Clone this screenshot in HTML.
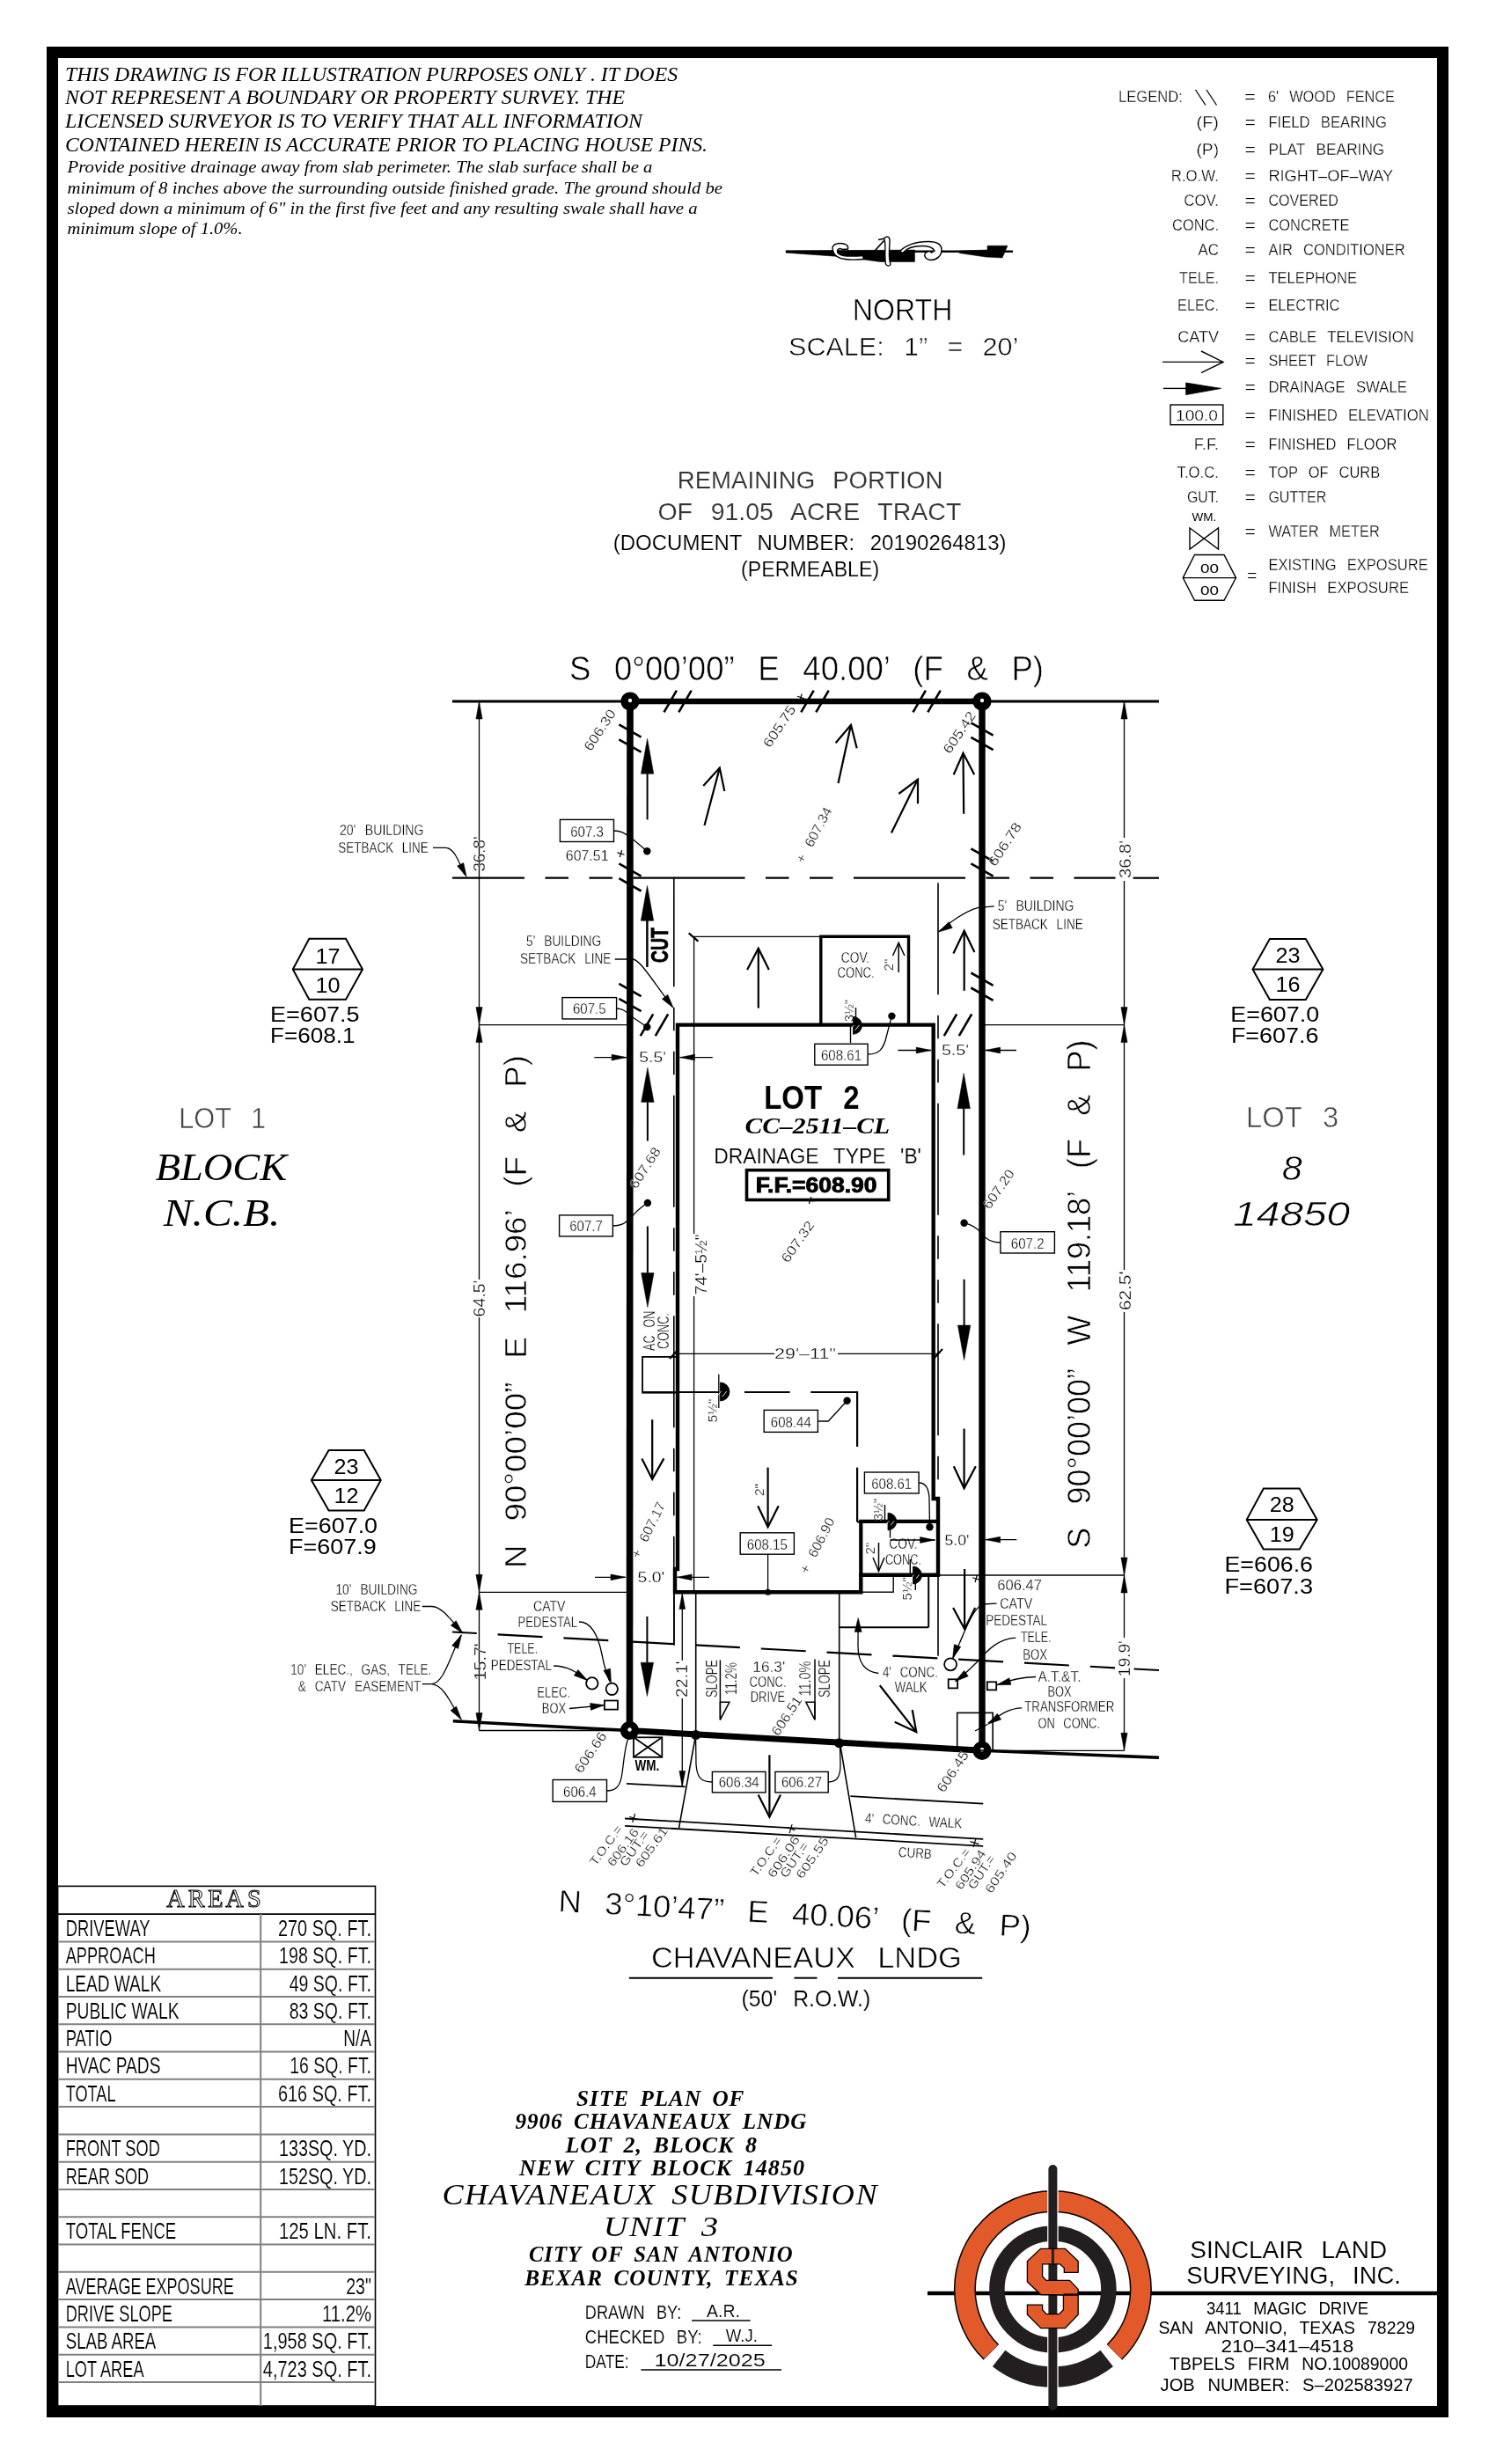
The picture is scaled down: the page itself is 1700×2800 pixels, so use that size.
<!DOCTYPE html>
<html><head><meta charset="utf-8"><title>Site Plan</title>
<style>
html,body{margin:0;padding:0;background:#fff;}
body{width:1700px;height:2800px;overflow:hidden;}
svg{display:block;font-family:"Liberation Sans", sans-serif;will-change:transform;}
text{stroke:#fff;}
</style></head>
<body>
<svg width="1700" height="2800" viewBox="0 0 1700 2800">
<rect width="1700" height="2800" fill="#fff"/>
<rect x="59.5" y="59.5" width="1580" height="2681" fill="none" stroke="#000" stroke-width="13"/>
<text x="74.0" y="91.8" font-size="23.66" font-family='"Liberation Serif", serif' font-style="italic" textLength="696.0" lengthAdjust="spacingAndGlyphs" stroke-width="0">THIS DRAWING IS FOR ILLUSTRATION PURPOSES ONLY . IT DOES</text>
<text x="74.0" y="118.2" font-size="23.66" font-family='"Liberation Serif", serif' font-style="italic" textLength="636.0" lengthAdjust="spacingAndGlyphs" stroke-width="0">NOT REPRESENT A BOUNDARY OR PROPERTY SURVEY. THE</text>
<text x="74.0" y="144.7" font-size="23.66" font-family='"Liberation Serif", serif' font-style="italic" textLength="656.0" lengthAdjust="spacingAndGlyphs" stroke-width="0">LICENSED SURVEYOR IS TO VERIFY THAT ALL INFORMATION</text>
<text x="74.0" y="171.8" font-size="23.66" font-family='"Liberation Serif", serif' font-style="italic" textLength="730.0" lengthAdjust="spacingAndGlyphs" stroke-width="0">CONTAINED HEREIN IS ACCURATE PRIOR TO PLACING HOUSE PINS.</text>
<text x="76.5" y="195.9" font-size="19.24" font-family='"Liberation Serif", serif' font-style="italic" textLength="665.0" lengthAdjust="spacingAndGlyphs" stroke-width="0">Provide positive drainage away from slab perimeter. The slab surface shall be a</text>
<text x="76.5" y="220.3" font-size="19.24" font-family='"Liberation Serif", serif' font-style="italic" textLength="744.5" lengthAdjust="spacingAndGlyphs" stroke-width="0">minimum of 8 inches above the surrounding outside finished grade. The ground should be</text>
<text x="76.5" y="243.0" font-size="19.24" font-family='"Liberation Serif", serif' font-style="italic" textLength="716.1" lengthAdjust="spacingAndGlyphs" stroke-width="0">sloped down a minimum of 6" in the first five feet and any resulting swale shall have a</text>
<text x="76.5" y="265.9" font-size="19.24" font-family='"Liberation Serif", serif' font-style="italic" textLength="199.1" lengthAdjust="spacingAndGlyphs" stroke-width="0">minimum slope of 1.0%.</text>
<text x="1271.0" y="115.7" font-size="17.46" textLength="72.8" lengthAdjust="spacingAndGlyphs" stroke-width="0.3">LEGEND:</text>
<line x1="1358.5" y1="102.0" x2="1370.0" y2="119.5" stroke="#000" stroke-width="1.3" />
<line x1="1371.0" y1="102.0" x2="1382.5" y2="119.5" stroke="#000" stroke-width="1.3" />
<text x="1414.0" y="115.7" font-size="17.46" textLength="13.0" lengthAdjust="spacingAndGlyphs" stroke-width="0.3">=</text>
<text x="1441.0" y="115.7" font-size="17.46" textLength="144.0" lengthAdjust="spacingAndGlyphs" word-spacing="7.9" stroke-width="0.3">6' WOOD FENCE</text>
<text x="1359.5" y="145.2" font-size="17.46" textLength="25.5" lengthAdjust="spacingAndGlyphs" stroke-width="0.3">(F)</text>
<text x="1414.5" y="145.2" font-size="17.46" textLength="12.5" lengthAdjust="spacingAndGlyphs" stroke-width="0.3">=</text>
<text x="1441.4" y="145.2" font-size="17.46" textLength="134.5" lengthAdjust="spacingAndGlyphs" word-spacing="7.9" stroke-width="0.3">FIELD BEARING</text>
<text x="1359.5" y="175.7" font-size="17.46" textLength="25.5" lengthAdjust="spacingAndGlyphs" stroke-width="0.3">(P)</text>
<text x="1414.5" y="175.7" font-size="17.46" textLength="12.5" lengthAdjust="spacingAndGlyphs" stroke-width="0.3">=</text>
<text x="1441.4" y="175.7" font-size="17.46" textLength="131.9" lengthAdjust="spacingAndGlyphs" word-spacing="7.9" stroke-width="0.3">PLAT BEARING</text>
<text x="1330.8" y="205.9" font-size="17.46" textLength="54.2" lengthAdjust="spacingAndGlyphs" stroke-width="0.3">R.O.W.</text>
<text x="1414.5" y="205.9" font-size="17.46" textLength="12.5" lengthAdjust="spacingAndGlyphs" stroke-width="0.3">=</text>
<text x="1441.4" y="205.9" font-size="17.46" textLength="141.8" lengthAdjust="spacingAndGlyphs" stroke-width="0.3">RIGHT–OF–WAY</text>
<text x="1345.2" y="233.8" font-size="17.46" textLength="39.8" lengthAdjust="spacingAndGlyphs" stroke-width="0.3">COV.</text>
<text x="1414.5" y="233.8" font-size="17.46" textLength="12.5" lengthAdjust="spacingAndGlyphs" stroke-width="0.3">=</text>
<text x="1441.4" y="233.8" font-size="17.46" textLength="79.6" lengthAdjust="spacingAndGlyphs" stroke-width="0.3">COVERED</text>
<text x="1332.1" y="261.7" font-size="17.46" textLength="52.9" lengthAdjust="spacingAndGlyphs" stroke-width="0.3">CONC.</text>
<text x="1414.5" y="261.7" font-size="17.46" textLength="12.5" lengthAdjust="spacingAndGlyphs" stroke-width="0.3">=</text>
<text x="1441.4" y="261.7" font-size="17.46" textLength="92.2" lengthAdjust="spacingAndGlyphs" stroke-width="0.3">CONCRETE</text>
<text x="1361.6" y="289.9" font-size="17.46" textLength="23.4" lengthAdjust="spacingAndGlyphs" stroke-width="0.3">AC</text>
<text x="1414.5" y="289.9" font-size="17.46" textLength="12.5" lengthAdjust="spacingAndGlyphs" stroke-width="0.3">=</text>
<text x="1441.4" y="289.9" font-size="17.46" textLength="155.3" lengthAdjust="spacingAndGlyphs" word-spacing="7.9" stroke-width="0.3">AIR CONDITIONER</text>
<text x="1340.0" y="322.4" font-size="17.46" textLength="45.0" lengthAdjust="spacingAndGlyphs" stroke-width="0.3">TELE.</text>
<text x="1414.5" y="322.4" font-size="17.46" textLength="12.5" lengthAdjust="spacingAndGlyphs" stroke-width="0.3">=</text>
<text x="1441.4" y="322.4" font-size="17.46" textLength="100.6" lengthAdjust="spacingAndGlyphs" stroke-width="0.3">TELEPHONE</text>
<text x="1338.1" y="353.2" font-size="17.46" textLength="46.9" lengthAdjust="spacingAndGlyphs" stroke-width="0.3">ELEC.</text>
<text x="1414.5" y="353.2" font-size="17.46" textLength="12.5" lengthAdjust="spacingAndGlyphs" stroke-width="0.3">=</text>
<text x="1441.4" y="353.2" font-size="17.46" textLength="81.0" lengthAdjust="spacingAndGlyphs" stroke-width="0.3">ELECTRIC</text>
<text x="1338.2" y="388.9" font-size="17.46" textLength="46.8" lengthAdjust="spacingAndGlyphs" stroke-width="0.3">CATV</text>
<text x="1414.5" y="388.9" font-size="17.46" textLength="12.5" lengthAdjust="spacingAndGlyphs" stroke-width="0.3">=</text>
<text x="1441.4" y="388.9" font-size="17.46" textLength="165.4" lengthAdjust="spacingAndGlyphs" word-spacing="7.9" stroke-width="0.3">CABLE TELEVISION</text>
<text x="1414.5" y="416.4" font-size="17.46" textLength="12.5" lengthAdjust="spacingAndGlyphs" stroke-width="0.3">=</text>
<text x="1441.4" y="416.4" font-size="17.46" textLength="112.6" lengthAdjust="spacingAndGlyphs" word-spacing="7.9" stroke-width="0.3">SHEET FLOW</text>
<text x="1414.5" y="446.4" font-size="17.46" textLength="12.5" lengthAdjust="spacingAndGlyphs" stroke-width="0.3">=</text>
<text x="1441.4" y="446.4" font-size="17.46" textLength="157.5" lengthAdjust="spacingAndGlyphs" word-spacing="7.9" stroke-width="0.3">DRAINAGE SWALE</text>
<text x="1414.5" y="478.2" font-size="17.46" textLength="12.5" lengthAdjust="spacingAndGlyphs" stroke-width="0.3">=</text>
<text x="1441.4" y="478.2" font-size="17.46" textLength="182.5" lengthAdjust="spacingAndGlyphs" word-spacing="7.9" stroke-width="0.3">FINISHED ELEVATION</text>
<text x="1356.8" y="511.1" font-size="17.46" textLength="28.2" lengthAdjust="spacingAndGlyphs" stroke-width="0.3">F.F.</text>
<text x="1414.5" y="511.1" font-size="17.46" textLength="12.5" lengthAdjust="spacingAndGlyphs" stroke-width="0.3">=</text>
<text x="1441.4" y="511.1" font-size="17.46" textLength="146.1" lengthAdjust="spacingAndGlyphs" word-spacing="7.9" stroke-width="0.3">FINISHED FLOOR</text>
<text x="1337.5" y="543.0" font-size="17.46" textLength="47.5" lengthAdjust="spacingAndGlyphs" stroke-width="0.3">T.O.C.</text>
<text x="1414.5" y="543.0" font-size="17.46" textLength="12.5" lengthAdjust="spacingAndGlyphs" stroke-width="0.3">=</text>
<text x="1441.4" y="543.0" font-size="17.46" textLength="126.8" lengthAdjust="spacingAndGlyphs" word-spacing="7.9" stroke-width="0.3">TOP OF CURB</text>
<text x="1348.9" y="571.4" font-size="17.46" textLength="36.1" lengthAdjust="spacingAndGlyphs" stroke-width="0.3">GUT.</text>
<text x="1414.5" y="571.4" font-size="17.46" textLength="12.5" lengthAdjust="spacingAndGlyphs" stroke-width="0.3">=</text>
<text x="1441.4" y="571.4" font-size="17.46" textLength="65.9" lengthAdjust="spacingAndGlyphs" stroke-width="0.3">GUTTER</text>
<text x="1414.5" y="610.0" font-size="17.46" textLength="12.5" lengthAdjust="spacingAndGlyphs" stroke-width="0.3">=</text>
<text x="1441.4" y="610.0" font-size="17.46" textLength="126.3" lengthAdjust="spacingAndGlyphs" word-spacing="7.9" stroke-width="0.3">WATER METER</text>
<line x1="1321.0" y1="411.4" x2="1390.0" y2="411.4" stroke="#000" stroke-width="1.4" />
<path d="M1365.0 399.0 L1390.0 411.4 L1365.0 423.6" fill="none" stroke="#000" stroke-width="1.4" />
<line x1="1322.0" y1="441.4" x2="1348.0" y2="441.4" stroke="#000" stroke-width="1.4" />
<path d="M1347.7 435.0 L1387.5 441.4 L1347.7 448.6 Z" fill="#000" stroke="#000" stroke-width="0.8" />
<rect x="1330.0" y="460.0" width="59.8" height="22.7" fill="none" stroke="#000" stroke-width="1.4"/>
<text x="1336.0" y="478.2" font-size="16.76" textLength="48.0" lengthAdjust="spacingAndGlyphs" stroke-width="0.3">100.0</text>
<text x="1354.5" y="592.3" font-size="13.27" textLength="27.8" lengthAdjust="spacingAndGlyphs" stroke-width="0">WM.</text>
<path d="M1352.0 600.0 L1384.5 624.0 L1384.5 600.0 L1352.0 624.0 Z" fill="none" stroke="#000" stroke-width="1.4" />
<path d="M1357.5 630.5 L1391.0 630.5 L1404.5 656.6 L1391.0 682.3 L1357.5 682.3 L1344.3 656.6 Z" fill="none" stroke="#000" stroke-width="1.4" />
<line x1="1344.3" y1="656.6" x2="1404.5" y2="656.6" stroke="#000" stroke-width="1.4" />
<text x="1364.0" y="651.0" font-size="15.36" textLength="21.0" lengthAdjust="spacingAndGlyphs" stroke-width="0">00</text>
<text x="1364.0" y="676.0" font-size="15.36" textLength="21.0" lengthAdjust="spacingAndGlyphs" stroke-width="0">00</text>
<text x="1417.0" y="660.0" font-size="17.46" textLength="11.5" lengthAdjust="spacingAndGlyphs" stroke-width="0.3">=</text>
<text x="1441.4" y="647.5" font-size="17.46" textLength="181.3" lengthAdjust="spacingAndGlyphs" word-spacing="7.9" stroke-width="0.3">EXISTING EXPOSURE</text>
<text x="1441.4" y="673.6" font-size="17.46" textLength="159.7" lengthAdjust="spacingAndGlyphs" word-spacing="7.9" stroke-width="0.3">FINISH EXPOSURE</text>
<line x1="893.0" y1="285.8" x2="1151.0" y2="285.8" stroke="#000" stroke-width="2.4" />
<path d="M893 285 L1039.5 284 L1039.5 297.5 L1000 297.5 L960 292 L893 287.2 Z" fill="#000" stroke="#000" stroke-width="0.5" />
<path d="M947 286 C944 280 948 276.5 955 276.5 C961 276.5 964.5 279 963.5 283 L957 283.5 C955 281.8 951.5 282.5 951.5 285.5 C951.5 290.5 960 292 981 290.5 L981 294.5 C960 296.5 949 294 947 286 Z" fill="#fff" stroke="#000" stroke-width="1.4" />
<path d="M1004.5 271.5 C1007 267.5 1011 268.5 1011 273 C1011 282 1009 292 1012 300.5 C1010.5 303 1008 302.5 1006.5 300 C1005 292 1006.5 281 1005.5 274.5 Z" fill="#fff" stroke="#000" stroke-width="1.4" />
<path d="M994.5 284.5 L1004.5 273.5" fill="none" stroke="#000" stroke-width="1.8" />
<path d="M998 272.5 L1005 271" fill="none" stroke="#000" stroke-width="1.6" />
<path d="M1022.5 286 C1028 279 1040 274.5 1055 274.5 C1065 274.5 1070 278 1070 284 C1070 291 1064 295.5 1058 295.5 C1052 295.5 1050 291 1051 288.5 C1053 285 1057 285 1058.5 287 L1062 285 C1060 281 1055 279.5 1048 279.5 C1038 279.5 1030 282 1026 287.5 Z" fill="#fff" stroke="#000" stroke-width="1.4" />
<path d="M1090 285 L1122 284 L1122 279.2 L1145 279.2 L1139 293 L1120 292 L1090 287.6 Z" fill="#000" stroke="#000" stroke-width="0.5" />
<text x="968.7" y="363.6" font-size="34.64" textLength="113.8" lengthAdjust="spacingAndGlyphs" stroke-width="0.6">NORTH</text>
<text x="896.0" y="403.6" font-size="28.91" textLength="261.3" lengthAdjust="spacingAndGlyphs" word-spacing="13.0" stroke-width="0.6">SCALE: 1” = 20’</text>
<text x="769.8" y="555.3" font-size="26.96" fill="#333" textLength="301.6" lengthAdjust="spacingAndGlyphs" word-spacing="12.1" stroke-width="0.15">REMAINING PORTION</text>
<text x="747.4" y="590.6" font-size="26.96" fill="#333" textLength="344.9" lengthAdjust="spacingAndGlyphs" word-spacing="12.1" stroke-width="0.15">OF 91.05 ACRE TRACT</text>
<text x="696.7" y="625.2" font-size="23.74" textLength="446.9" lengthAdjust="spacingAndGlyphs" word-spacing="10.7" stroke-width="0.15">(DOCUMENT NUMBER: 20190264813)</text>
<text x="842.0" y="654.7" font-size="23.74" textLength="157.2" lengthAdjust="spacingAndGlyphs" stroke-width="0.15">(PERMEABLE)</text>
<text x="647.0" y="773.3" font-size="39.11" textLength="539.0" lengthAdjust="spacingAndGlyphs" word-spacing="17.6" stroke-width="0.6">S 0°00’00” E 40.00’ (F &amp; P)</text>
<line x1="514.0" y1="797.0" x2="1317.0" y2="797.0" stroke="#000" stroke-width="3" />
<line x1="514" y1="997.7" x2="1267.5" y2="997.7" stroke="#000" stroke-width="2.2" stroke-dasharray="127 23.5 26.5 23.5 26.5 23.5" stroke-dashoffset="45"/>
<line x1="1287.6" y1="997.7" x2="1317.0" y2="997.7" stroke="#000" stroke-width="2.2" />
<line x1="765.8" y1="997.7" x2="765.8" y2="1869.5" stroke="#000" stroke-width="1.6" stroke-dasharray="127 23.5 26.5 23.5 26.5 23.5" stroke-dashoffset="3.5"/>
<line x1="1066" y1="997.7" x2="1066" y2="1886" stroke="#000" stroke-width="1.6" stroke-dasharray="127 23.5 26.5 23.5 26.5 23.5" stroke-dashoffset="-5.5"/>
<line x1="514" y1="1854.5" x2="1267" y2="1895.3" stroke="#000" stroke-width="2.2" stroke-dasharray="51 23.9" stroke-dashoffset="23.2"/>
<line x1="1288.6" y1="1896.5" x2="1317.0" y2="1898.0" stroke="#000" stroke-width="2.2" />
<line x1="544.5" y1="1164.6" x2="716.0" y2="1164.6" stroke="#000" stroke-width="1.3" />
<line x1="1116.0" y1="1164.6" x2="1277.5" y2="1164.6" stroke="#000" stroke-width="1.3" />
<line x1="544.5" y1="1809.3" x2="716.0" y2="1809.3" stroke="#000" stroke-width="1.3" />
<line x1="1066.0" y1="1790.0" x2="1277.5" y2="1790.0" stroke="#000" stroke-width="1.3" />
<line x1="544.5" y1="1966.5" x2="716.0" y2="1966.5" stroke="#000" stroke-width="1.3" />
<line x1="1116.0" y1="1989.3" x2="1277.5" y2="1989.3" stroke="#000" stroke-width="1.3" />
<line x1="544.5" y1="797.0" x2="544.5" y2="1454.0" stroke="#000" stroke-width="1.3" />
<line x1="544.5" y1="1497.0" x2="544.5" y2="1966.5" stroke="#000" stroke-width="1.3" />
<path d="M544.5 797.0 L548.1 817.0 L540.9 817.0 Z" fill="#000" stroke="#000" stroke-width="0.5" />
<path d="M544.5 1164.6 L540.9 1144.6 L548.1 1144.6 Z" fill="#000" stroke="#000" stroke-width="0.5" />
<path d="M544.5 1164.6 L548.1 1184.6 L540.9 1184.6 Z" fill="#000" stroke="#000" stroke-width="0.5" />
<path d="M544.5 1809.3 L540.9 1789.3 L548.1 1789.3 Z" fill="#000" stroke="#000" stroke-width="0.5" />
<path d="M544.5 1809.3 L548.1 1829.3 L540.9 1829.3 Z" fill="#000" stroke="#000" stroke-width="0.5" />
<path d="M544.5 1966.5 L540.9 1946.5 L548.1 1946.5 Z" fill="#000" stroke="#000" stroke-width="0.5" />
<line x1="1277.5" y1="797.0" x2="1277.5" y2="952.0" stroke="#000" stroke-width="1.3" />
<line x1="1277.5" y1="1001.0" x2="1277.5" y2="1443.0" stroke="#000" stroke-width="1.3" />
<line x1="1277.5" y1="1491.0" x2="1277.5" y2="1861.0" stroke="#000" stroke-width="1.3" />
<line x1="1277.5" y1="1907.0" x2="1277.5" y2="1989.3" stroke="#000" stroke-width="1.3" />
<path d="M1277.5 797.0 L1281.1 817.0 L1273.9 817.0 Z" fill="#000" stroke="#000" stroke-width="0.5" />
<path d="M1277.5 1164.6 L1273.9 1144.6 L1281.1 1144.6 Z" fill="#000" stroke="#000" stroke-width="0.5" />
<path d="M1277.5 1164.6 L1281.1 1184.6 L1273.9 1184.6 Z" fill="#000" stroke="#000" stroke-width="0.5" />
<path d="M1277.5 1790.0 L1273.9 1770.0 L1281.1 1770.0 Z" fill="#000" stroke="#000" stroke-width="0.5" />
<path d="M1277.5 1790.0 L1281.1 1810.0 L1273.9 1810.0 Z" fill="#000" stroke="#000" stroke-width="0.5" />
<path d="M1277.5 1989.3 L1273.9 1969.3 L1281.1 1969.3 Z" fill="#000" stroke="#000" stroke-width="0.5" />
<text x="551.5" y="990.6" font-size="18.16" textLength="40.1" lengthAdjust="spacingAndGlyphs" transform="rotate(-90.00 551.5 990.6)" stroke-width="0.3">36.8'</text>
<text x="551.5" y="1496.4" font-size="18.16" textLength="41.6" lengthAdjust="spacingAndGlyphs" transform="rotate(-90.00 551.5 1496.4)" stroke-width="0.3">64.5'</text>
<text x="551.5" y="1909.5" font-size="18.16" textLength="42.1" lengthAdjust="spacingAndGlyphs" transform="rotate(-90.00 551.5 1909.5)" stroke-width="0.3">15.7'</text>
<text x="1284.5" y="998.0" font-size="18.16" textLength="43.0" lengthAdjust="spacingAndGlyphs" transform="rotate(-90.00 1284.5 998.0)" stroke-width="0.3">36.8'</text>
<text x="1284.5" y="1489.0" font-size="18.16" textLength="44.4" lengthAdjust="spacingAndGlyphs" transform="rotate(-90.00 1284.5 1489.0)" stroke-width="0.3">62.5'</text>
<text x="1284.5" y="1905.3" font-size="18.16" textLength="41.1" lengthAdjust="spacingAndGlyphs" transform="rotate(-90.00 1284.5 1905.3)" stroke-width="0.3">19.9'</text>
<line x1="716.0" y1="797.0" x2="1116.0" y2="797.0" stroke="#000" stroke-width="6.5" />
<line x1="716.0" y1="797.0" x2="715.5" y2="1966.5" stroke="#000" stroke-width="7.6" />
<line x1="1116.0" y1="797.0" x2="1116.0" y2="1989.3" stroke="#000" stroke-width="7.4" />
<line x1="715.5" y1="1966.5" x2="1116.0" y2="1989.3" stroke="#000" stroke-width="7" />
<line x1="514.8" y1="1955.8" x2="715.5" y2="1966.5" stroke="#000" stroke-width="3.6" />
<line x1="1116.0" y1="1989.3" x2="1317.0" y2="1997.2" stroke="#000" stroke-width="3.6" />
<circle cx="716.0" cy="797.0" r="10.6" fill="#000" stroke="#000" stroke-width="0"/>
<circle cx="716.0" cy="796.0" r="2.2" fill="#fff" stroke="#000" stroke-width="0"/>
<circle cx="1116.0" cy="797.0" r="10.6" fill="#000" stroke="#000" stroke-width="0"/>
<circle cx="1116.0" cy="796.0" r="2.2" fill="#fff" stroke="#000" stroke-width="0"/>
<circle cx="715.5" cy="1966.5" r="10.6" fill="#000" stroke="#000" stroke-width="0"/>
<circle cx="715.5" cy="1965.5" r="2.2" fill="#fff" stroke="#000" stroke-width="0"/>
<circle cx="1116.0" cy="1989.3" r="10.6" fill="#000" stroke="#000" stroke-width="0"/>
<circle cx="1116.0" cy="1988.3" r="2.2" fill="#fff" stroke="#000" stroke-width="0"/>
<line x1="703.4" y1="823.3" x2="728.6" y2="837.7" stroke="#000" stroke-width="2.6" />
<line x1="703.4" y1="840.3" x2="728.6" y2="854.7" stroke="#000" stroke-width="2.6" />
<line x1="703.4" y1="981.3" x2="728.6" y2="995.7" stroke="#000" stroke-width="2.6" />
<line x1="703.4" y1="998.1" x2="728.6" y2="1012.5" stroke="#000" stroke-width="2.6" />
<line x1="703.4" y1="1117.8" x2="728.6" y2="1132.2" stroke="#000" stroke-width="2.6" />
<line x1="703.4" y1="1134.8" x2="728.6" y2="1149.2" stroke="#000" stroke-width="2.6" />
<line x1="1103.4" y1="821.3" x2="1128.6" y2="835.7" stroke="#000" stroke-width="2.6" />
<line x1="1103.4" y1="837.8" x2="1128.6" y2="852.2" stroke="#000" stroke-width="2.6" />
<line x1="1103.4" y1="964.3" x2="1128.6" y2="978.7" stroke="#000" stroke-width="2.6" />
<line x1="1103.4" y1="981.3" x2="1128.6" y2="995.7" stroke="#000" stroke-width="2.6" />
<line x1="1103.4" y1="1105.5" x2="1128.6" y2="1119.9" stroke="#000" stroke-width="2.6" />
<line x1="1103.4" y1="1122.5" x2="1128.6" y2="1136.9" stroke="#000" stroke-width="2.6" />
<line x1="754.5" y1="809.4" x2="768.9" y2="784.6" stroke="#000" stroke-width="2.6" />
<line x1="771.3" y1="809.4" x2="785.7" y2="784.6" stroke="#000" stroke-width="2.6" />
<line x1="910.3" y1="809.4" x2="924.7" y2="784.6" stroke="#000" stroke-width="2.6" />
<line x1="927.3" y1="809.4" x2="941.7" y2="784.6" stroke="#000" stroke-width="2.6" />
<line x1="1037.5" y1="809.4" x2="1051.9" y2="784.6" stroke="#000" stroke-width="2.6" />
<line x1="1054.3" y1="809.4" x2="1068.7" y2="784.6" stroke="#000" stroke-width="2.6" />
<line x1="727.8" y1="1177.2" x2="742.2" y2="1152.4" stroke="#000" stroke-width="2.6" />
<line x1="744.8" y1="1177.2" x2="759.2" y2="1152.4" stroke="#000" stroke-width="2.6" />
<line x1="1072.8" y1="1177.2" x2="1087.2" y2="1152.4" stroke="#000" stroke-width="2.6" />
<line x1="1089.8" y1="1177.2" x2="1104.2" y2="1152.4" stroke="#000" stroke-width="2.6" />
<line x1="800.5" y1="938.0" x2="817.8" y2="872.6" stroke="#000" stroke-width="2.2" />
<path d="M799.2 893.0 L817.8 872.6 L823.3 899.0" fill="none" stroke="#000" stroke-width="2.2" stroke-linejoin="miter"/>
<line x1="952.5" y1="890.0" x2="967.0" y2="823.8" stroke="#000" stroke-width="2.2" />
<path d="M949.6 844.2 L967.0 823.8 L973.7 850.2" fill="none" stroke="#000" stroke-width="2.2" stroke-linejoin="miter"/>
<line x1="1012.9" y1="946.5" x2="1043.0" y2="885.6" stroke="#000" stroke-width="2.2" />
<path d="M1021.3 902.0 L1043.0 885.6 L1043.0 913.3" fill="none" stroke="#000" stroke-width="2.2" stroke-linejoin="miter"/>
<line x1="1095.2" y1="924.8" x2="1094.5" y2="855.8" stroke="#000" stroke-width="2.2" />
<path d="M1083.7 880.3 L1094.5 855.8 L1107.2 880.3" fill="none" stroke="#000" stroke-width="2.2" stroke-linejoin="miter"/>
<line x1="861.8" y1="1145.6" x2="861.8" y2="1077.7" stroke="#000" stroke-width="2.2" />
<path d="M849.1 1102.0 L861.8 1077.7 L873.8 1102.0" fill="none" stroke="#000" stroke-width="2.2" stroke-linejoin="miter"/>
<line x1="1095.7" y1="1125.8" x2="1095.7" y2="1057.7" stroke="#000" stroke-width="2.2" />
<path d="M1083.4 1083.5 L1095.7 1057.7 L1107.4 1082.0" fill="none" stroke="#000" stroke-width="2.2" stroke-linejoin="miter"/>
<line x1="1021.2" y1="1105.0" x2="1021.2" y2="1071.2" stroke="#000" stroke-width="1.5" />
<path d="M1014.5 1086.0 L1021.2 1071.2 L1027.9 1086.0" fill="none" stroke="#000" stroke-width="1.5" stroke-linejoin="miter"/>
<line x1="741.2" y1="1613.2" x2="741.2" y2="1680.9" stroke="#000" stroke-width="2.2" />
<path d="M729.4 1657.4 L741.2 1680.9 L754.4 1657.4" fill="none" stroke="#000" stroke-width="2.2" stroke-linejoin="miter"/>
<line x1="872.6" y1="1667.6" x2="872.6" y2="1735.3" stroke="#000" stroke-width="2.2" />
<path d="M861.2 1711.2 L872.6 1735.3 L884.7 1711.2" fill="none" stroke="#000" stroke-width="2.2" stroke-linejoin="miter"/>
<line x1="1095.6" y1="1623.5" x2="1095.6" y2="1691.2" stroke="#000" stroke-width="2.2" />
<path d="M1083.8 1666.2 L1095.6 1691.2 L1108.8 1666.2" fill="none" stroke="#000" stroke-width="2.2" stroke-linejoin="miter"/>
<line x1="998.5" y1="1753.0" x2="998.5" y2="1785.3" stroke="#000" stroke-width="1.5" />
<path d="M992.0 1770.0 L998.5 1785.3 L1005.0 1770.0" fill="none" stroke="#000" stroke-width="1.5" stroke-linejoin="miter"/>
<line x1="1096.1" y1="1783.0" x2="1096.1" y2="1851.2" stroke="#000" stroke-width="2.2" />
<path d="M1083.1 1827.1 L1096.1 1851.2 L1108.2 1827.1" fill="none" stroke="#000" stroke-width="2.2" stroke-linejoin="miter"/>
<line x1="999.8" y1="1915.3" x2="1041.3" y2="1968.2" stroke="#000" stroke-width="2.2" />
<path d="M1016.7 1956.8 L1041.3 1968.2 L1036.7 1943.0" fill="none" stroke="#000" stroke-width="2.2" stroke-linejoin="miter"/>
<line x1="874.4" y1="1994.3" x2="874.4" y2="2064.7" stroke="#000" stroke-width="2.2" />
<path d="M861.7 2039.4 L874.4 2064.7 L887.0 2039.4" fill="none" stroke="#000" stroke-width="2.2" stroke-linejoin="miter"/>
<line x1="735.6" y1="931.4" x2="735.6" y2="879.3" stroke="#000" stroke-width="2" />
<path d="M735.6 839.2 L728.4 879.3 L742.8 879.3 Z" fill="#000" stroke="#000" stroke-width="0.5" />
<line x1="735.5" y1="1098.8" x2="735.5" y2="1046.3" stroke="#000" stroke-width="2" />
<path d="M735.5 1006.3 L728.3 1046.3 L742.7 1046.3 Z" fill="#000" stroke="#000" stroke-width="0.5" />
<line x1="735.9" y1="1296.5" x2="735.9" y2="1252.4" stroke="#000" stroke-width="2" />
<path d="M735.9 1213.2 L728.7 1252.4 L743.1 1252.4 Z" fill="#000" stroke="#000" stroke-width="0.5" />
<line x1="735.9" y1="1393.5" x2="735.9" y2="1446.5" stroke="#000" stroke-width="2" />
<path d="M735.9 1485.5 L728.7 1446.5 L743.1 1446.5 Z" fill="#000" stroke="#000" stroke-width="0.5" />
<line x1="735.4" y1="1836.9" x2="735.4" y2="1889.2" stroke="#000" stroke-width="2" />
<path d="M735.4 1927.6 L728.2 1889.2 L742.6 1889.2 Z" fill="#000" stroke="#000" stroke-width="0.5" />
<line x1="1095.2" y1="1312.6" x2="1095.2" y2="1259.7" stroke="#000" stroke-width="2" />
<path d="M1095.2 1219.5 L1088.0 1259.7 L1102.4 1259.7 Z" fill="#000" stroke="#000" stroke-width="0.5" />
<line x1="1095.6" y1="1453.8" x2="1095.6" y2="1506.0" stroke="#000" stroke-width="2" />
<path d="M1095.6 1545.6 L1088.4 1506.0 L1102.8 1506.0 Z" fill="#000" stroke="#000" stroke-width="0.5" />
<line x1="735.3" y1="1046.0" x2="735.3" y2="1098.8" stroke="#000" stroke-width="2" />
<text x="758.5" y="1094.0" font-size="27.23" font-weight="bold" textLength="40.0" lengthAdjust="spacingAndGlyphs" transform="rotate(-90.00 758.5 1094.0)" stroke-width="0" style="stroke:#000;stroke-width:0.8px">CUT</text>
<path d="M770.0 1164.6 L1060.7 1164.6 L1060.7 1703.0 L1066.0 1703.0 L1066.0 1789.7 L978.3 1789.7 L978.3 1809.2 L767.0 1809.2 L767.0 1783.0 L770.0 1783.0 L770.0 1164.6 Z" fill="none" stroke="#000" stroke-width="4.4" stroke-linejoin="miter"/>
<path d="M932.8 1164.6 L932.8 1064.2 L1032.5 1064.2 L1032.5 1164.6" fill="none" stroke="#000" stroke-width="3.4" />
<text x="955.8" y="1093.7" font-size="16.76" textLength="32.3" lengthAdjust="spacingAndGlyphs" stroke-width="0.3">COV.</text>
<text x="951.6" y="1110.5" font-size="16.76" textLength="42.1" lengthAdjust="spacingAndGlyphs" stroke-width="0.3">CONC.</text>
<text x="1014.5" y="1103.5" font-size="15.36" textLength="14.0" lengthAdjust="spacingAndGlyphs" transform="rotate(-90.00 1014.5 1103.5)" stroke-width="0.3">2"</text>
<text x="969.5" y="1161.0" font-size="15.36" textLength="25.2" lengthAdjust="spacingAndGlyphs" transform="rotate(-90.00 969.5 1161.0)" stroke-width="0.3">3½"</text>
<path d="M978.3 1789.7 L978.3 1728.8 L1066.0 1728.8" fill="none" stroke="#000" stroke-width="4.2" />
<rect x="978.3" y="1790.8" width="36.9" height="18.4" fill="none" stroke="#000" stroke-width="1.4"/>
<text x="1010.3" y="1760.3" font-size="16.76" textLength="32.3" lengthAdjust="spacingAndGlyphs" stroke-width="0.3">COV.</text>
<text x="1005.9" y="1778.0" font-size="16.76" textLength="41.1" lengthAdjust="spacingAndGlyphs" stroke-width="0.3">CONC.</text>
<text x="994.0" y="1766.2" font-size="15.36" textLength="13.3" lengthAdjust="spacingAndGlyphs" transform="rotate(-90.00 994.0 1766.2)" stroke-width="0.3">2"</text>
<text x="1003.0" y="1728.0" font-size="15.36" textLength="25.0" lengthAdjust="spacingAndGlyphs" transform="rotate(-90.00 1003.0 1728.0)" stroke-width="0.3">3½"</text>
<text x="1036.5" y="1818.4" font-size="15.36" textLength="26.1" lengthAdjust="spacingAndGlyphs" transform="rotate(-90.00 1036.5 1818.4)" stroke-width="0.3">5½"</text>
<line x1="730.1" y1="1582.0" x2="817.6" y2="1582.0" stroke="#000" stroke-width="2.2" />
<line x1="846.0" y1="1582.0" x2="897.6" y2="1582.0" stroke="#000" stroke-width="2.2" />
<line x1="921.2" y1="1582.0" x2="974.1" y2="1582.0" stroke="#000" stroke-width="2.2" />
<line x1="974.1" y1="1581.0" x2="974.1" y2="1644.0" stroke="#000" stroke-width="2.2" />
<line x1="974.1" y1="1667.6" x2="974.1" y2="1729.4" stroke="#000" stroke-width="2.2" />
<line x1="974.1" y1="1729.4" x2="978.0" y2="1729.4" stroke="#000" stroke-width="2.2" />
<rect x="730.1" y="1541.9" width="39.9" height="40.8" fill="none" stroke="#000" stroke-width="1.8"/>
<text x="743.8" y="1534.9" font-size="17.46" textLength="45.1" lengthAdjust="spacingAndGlyphs" transform="rotate(-90.00 743.8 1534.9)" word-spacing="7.9" stroke-width="0.3">AC ON</text>
<text x="759.8" y="1532.9" font-size="17.46" textLength="40.8" lengthAdjust="spacingAndGlyphs" transform="rotate(-90.00 759.8 1532.9)" stroke-width="0.3">CONC.</text>
<line x1="766.0" y1="1538.4" x2="880.0" y2="1538.4" stroke="#000" stroke-width="1.3" />
<line x1="952.0" y1="1538.4" x2="1066.0" y2="1538.4" stroke="#000" stroke-width="1.3" />
<text x="880.0" y="1544.1" font-size="17.18" textLength="70.0" lengthAdjust="spacingAndGlyphs" stroke-width="0.3">29'–11"</text>
<line x1="761.0" y1="1544.0" x2="771.0" y2="1533.0" stroke="#000" stroke-width="2" />
<line x1="1061.0" y1="1544.0" x2="1071.0" y2="1533.0" stroke="#000" stroke-width="2" />
<line x1="788.6" y1="1064.3" x2="788.6" y2="1402.0" stroke="#000" stroke-width="1.3" />
<line x1="788.6" y1="1473.0" x2="788.6" y2="1809.0" stroke="#000" stroke-width="1.3" />
<line x1="788.6" y1="1064.3" x2="932.8" y2="1064.3" stroke="#000" stroke-width="1.3" />
<line x1="782.7" y1="1060.4" x2="793.4" y2="1069.6" stroke="#000" stroke-width="2.2" />
<text x="803.0" y="1471.5" font-size="18.16" textLength="69.1" lengthAdjust="spacingAndGlyphs" transform="rotate(-90.00 803.0 1471.5)" stroke-width="0.3">74'–5½"</text>
<path d="M969.5 1155.3 A10 10 0 0 1 969.5 1175.3 Z" fill="#000" stroke="#000" stroke-width="0.8" />
<line x1="965.5" y1="1170.8" x2="970.5" y2="1164.8" stroke="#fff" stroke-width="0.9"/>
<line x1="971.5" y1="1170.8" x2="976.5" y2="1164.8" stroke="#fff" stroke-width="0.9"/>
<line x1="972.5" y1="1145.0" x2="972.5" y2="1165.3" stroke="#000" stroke-width="1.4" />
<line x1="966.5" y1="1165.3" x2="966.5" y2="1185.0" stroke="#000" stroke-width="1.4" />
<line x1="816.8" y1="1561.8" x2="816.8" y2="1600.0" stroke="#000" stroke-width="1.3" />
<path d="M818.5 1571.0 A10.5 10.5 0 0 1 818.5 1592.0 Z" fill="#000" stroke="#000" stroke-width="0.8" />
<line x1="814.3" y1="1587.3" x2="819.5" y2="1581.0" stroke="#fff" stroke-width="0.9"/>
<line x1="820.6" y1="1587.3" x2="825.8" y2="1581.0" stroke="#fff" stroke-width="0.9"/>
<text x="815.3" y="1616.2" font-size="15.36" textLength="26.5" lengthAdjust="spacingAndGlyphs" transform="rotate(-90.00 815.3 1616.2)" stroke-width="0.3">5½"</text>
<text x="868.2" y="1700.0" font-size="15.36" textLength="14.1" lengthAdjust="spacingAndGlyphs" transform="rotate(-90.00 868.2 1700.0)" stroke-width="0.3">2"</text>
<path d="M1009.0 1719.2 A9.8 9.8 0 0 1 1009.0 1738.8 Z" fill="#000" stroke="#000" stroke-width="0.8" />
<line x1="1005.1" y1="1734.4" x2="1010.0" y2="1728.5" stroke="#fff" stroke-width="0.9"/>
<line x1="1011.0" y1="1734.4" x2="1015.9" y2="1728.5" stroke="#fff" stroke-width="0.9"/>
<line x1="1005.5" y1="1710.0" x2="1005.5" y2="1729.0" stroke="#000" stroke-width="1.4" />
<line x1="1011.5" y1="1729.0" x2="1011.5" y2="1747.6" stroke="#000" stroke-width="1.4" />
<path d="M1037.5 1780.0 A10 10 0 0 1 1037.5 1800.0 Z" fill="#000" stroke="#000" stroke-width="0.8" />
<line x1="1033.5" y1="1795.5" x2="1038.5" y2="1789.5" stroke="#fff" stroke-width="0.9"/>
<line x1="1039.5" y1="1795.5" x2="1044.5" y2="1789.5" stroke="#fff" stroke-width="0.9"/>
<line x1="1034.3" y1="1772.0" x2="1034.3" y2="1790.0" stroke="#000" stroke-width="1.4" />
<line x1="1040.3" y1="1790.0" x2="1040.3" y2="1807.0" stroke="#000" stroke-width="1.4" />
<rect x="636.4" y="931.4" width="61.1" height="25.1" fill="none" stroke="#000" stroke-width="1.4"/>
<text x="667.0" y="951.0" font-size="16.76" text-anchor="middle" textLength="37.7" lengthAdjust="spacingAndGlyphs" stroke-width="0.3">607.3</text>
<path d="M697.5 944 C706 944 710 947 716 951 L735.3 967.3" fill="none" stroke="#000" stroke-width="1.3" />
<circle cx="735.3" cy="967.3" r="4.2" fill="#000"/>
<text x="642.8" y="978.2" font-size="16.76" textLength="48.7" lengthAdjust="spacingAndGlyphs" stroke-width="0.3">607.51</text>
<rect x="639.0" y="1133.6" width="61.6" height="24.3" fill="none" stroke="#000" stroke-width="1.4"/>
<text x="669.8" y="1152.4" font-size="16.76" text-anchor="middle" textLength="37.7" lengthAdjust="spacingAndGlyphs" stroke-width="0.3">607.5</text>
<path d="M700.6 1146 C708 1146 712 1150 716 1154 L735.3 1167" fill="none" stroke="#000" stroke-width="1.3" />
<circle cx="735.3" cy="1167.0" r="4.2" fill="#000"/>
<rect x="925.8" y="1186.3" width="60.3" height="23.9" fill="none" stroke="#000" stroke-width="1.4"/>
<text x="956.0" y="1204.7" font-size="16.76" text-anchor="middle" textLength="46.0" lengthAdjust="spacingAndGlyphs" stroke-width="0.3">608.61</text>
<path d="M986.1 1198 C998 1198 1004 1194 1008 1175 L1013.4 1154.6" fill="none" stroke="#000" stroke-width="1.3" />
<circle cx="1013.4" cy="1154.6" r="4.2" fill="#000"/>
<rect x="635.6" y="1380.9" width="60.8" height="24.0" fill="none" stroke="#000" stroke-width="1.4"/>
<text x="666.0" y="1399.4" font-size="16.76" text-anchor="middle" textLength="37.7" lengthAdjust="spacingAndGlyphs" stroke-width="0.3">607.7</text>
<path d="M696.4 1393 C706 1393 710 1390 716 1385 C722 1377 728 1372 735.9 1367" fill="none" stroke="#000" stroke-width="1.3" />
<circle cx="735.9" cy="1367.0" r="4.2" fill="#000"/>
<rect x="1136.9" y="1399.7" width="61.5" height="24.3" fill="none" stroke="#000" stroke-width="1.4"/>
<text x="1167.7" y="1418.5" font-size="16.76" text-anchor="middle" textLength="37.7" lengthAdjust="spacingAndGlyphs" stroke-width="0.3">607.2</text>
<path d="M1136.9 1412 C1126 1412 1120 1408 1116 1402 C1110 1395 1102 1391 1095.6 1389.7" fill="none" stroke="#000" stroke-width="1.3" />
<circle cx="1095.6" cy="1389.7" r="4.2" fill="#000"/>
<rect x="868.2" y="1602.4" width="61.2" height="25.0" fill="none" stroke="#000" stroke-width="1.4"/>
<text x="898.8" y="1621.9" font-size="16.76" text-anchor="middle" textLength="46.0" lengthAdjust="spacingAndGlyphs" stroke-width="0.3">608.44</text>
<path d="M929.4 1615 L941.2 1615 L962.6 1591.8" fill="none" stroke="#000" stroke-width="1.3" />
<circle cx="962.6" cy="1591.8" r="4.2" fill="#000"/>
<rect x="982.4" y="1673.0" width="61.7" height="24.0" fill="none" stroke="#000" stroke-width="1.4"/>
<text x="1013.2" y="1691.5" font-size="16.76" text-anchor="middle" textLength="46.0" lengthAdjust="spacingAndGlyphs" stroke-width="0.3">608.61</text>
<path d="M1044.1 1685 C1054 1685 1056 1695 1056 1705 L1056.5 1735.3" fill="none" stroke="#000" stroke-width="1.3" />
<circle cx="1056.5" cy="1735.3" r="4.2" fill="#000"/>
<rect x="841.2" y="1741.8" width="61.2" height="24.4" fill="none" stroke="#000" stroke-width="1.4"/>
<text x="871.8" y="1760.7" font-size="16.76" text-anchor="middle" textLength="46.0" lengthAdjust="spacingAndGlyphs" stroke-width="0.3">608.15</text>
<line x1="872.6" y1="1766.2" x2="872.6" y2="1809.0" stroke="#000" stroke-width="1.3" />
<circle cx="872.6" cy="1809.2" r="3.5" fill="#000"/>
<text x="671.5" y="854.5" font-size="15.36" textLength="52.7" lengthAdjust="spacingAndGlyphs" transform="rotate(-56.61 671.5 854.5)" stroke-width="0.3">606.30</text>
<text x="875.0" y="850.5" font-size="15.36" textLength="53.7" lengthAdjust="spacingAndGlyphs" transform="rotate(-56.01 875.0 850.5)" stroke-width="0.3">605.75</text>
<text x="1079.5" y="857.5" font-size="15.36" textLength="53.7" lengthAdjust="spacingAndGlyphs" transform="rotate(-56.01 1079.5 857.5)" stroke-width="0.3">605.42</text>
<text x="913.0" y="982.0" font-size="15.36" textLength="69.4" lengthAdjust="spacingAndGlyphs" transform="rotate(-61.59 913.0 982.0)" word-spacing="6.9" stroke-width="0.3">+ 607.34</text>
<text x="1131.0" y="985.5" font-size="15.36" textLength="55.6" lengthAdjust="spacingAndGlyphs" transform="rotate(-56.74 1131.0 985.5)" stroke-width="0.3">606.78</text>
<text x="723.0" y="1352.0" font-size="15.36" textLength="52.4" lengthAdjust="spacingAndGlyphs" transform="rotate(-57.07 723.0 1352.0)" stroke-width="0.3">607.68</text>
<text x="895.5" y="1436.0" font-size="15.36" textLength="53.5" lengthAdjust="spacingAndGlyphs" transform="rotate(-55.27 895.5 1436.0)" stroke-width="0.3">607.32</text>
<text x="1124.5" y="1375.0" font-size="15.36" textLength="50.6" lengthAdjust="spacingAndGlyphs" transform="rotate(-55.05 1124.5 1375.0)" stroke-width="0.3">607.20</text>
<text x="726.0" y="1772.0" font-size="15.36" textLength="69.1" lengthAdjust="spacingAndGlyphs" transform="rotate(-63.81 726.0 1772.0)" word-spacing="6.9" stroke-width="0.3">+ 607.17</text>
<text x="917.5" y="1789.5" font-size="15.36" textLength="69.1" lengthAdjust="spacingAndGlyphs" transform="rotate(-62.88 917.5 1789.5)" word-spacing="6.9" stroke-width="0.3">+ 606.90</text>
<text x="884.5" y="1973.5" font-size="15.36" textLength="49.8" lengthAdjust="spacingAndGlyphs" transform="rotate(-56.47 884.5 1973.5)" stroke-width="0.3">606.51</text>
<text x="660.5" y="2016.0" font-size="15.36" textLength="52.6" lengthAdjust="spacingAndGlyphs" transform="rotate(-55.86 660.5 2016.0)" stroke-width="0.3">606.66</text>
<text x="1072.5" y="2038.0" font-size="15.36" textLength="52.7" lengthAdjust="spacingAndGlyphs" transform="rotate(-56.61 1072.5 2038.0)" stroke-width="0.3">606.45</text>
<line x1="701.5" y1="968.9" x2="709.5" y2="971.3" stroke="#000" stroke-width="1.2" />
<line x1="704.3" y1="974.1" x2="706.7" y2="966.1" stroke="#000" stroke-width="1.2" />
<line x1="906.0" y1="791.3" x2="914.0" y2="793.7" stroke="#000" stroke-width="1.2" />
<line x1="908.8" y1="796.5" x2="911.2" y2="788.5" stroke="#000" stroke-width="1.2" />
<line x1="1105.0" y1="793.8" x2="1113.0" y2="796.2" stroke="#000" stroke-width="1.2" />
<line x1="1107.8" y1="799.0" x2="1110.2" y2="791.0" stroke="#000" stroke-width="1.2" />
<line x1="916.6" y1="1362.8" x2="924.6" y2="1365.2" stroke="#000" stroke-width="1.2" />
<line x1="919.4" y1="1368.0" x2="921.8" y2="1360.0" stroke="#000" stroke-width="1.2" />
<line x1="1105.2" y1="1792.8" x2="1113.2" y2="1795.2" stroke="#000" stroke-width="1.2" />
<line x1="1108.0" y1="1798.0" x2="1110.4" y2="1790.0" stroke="#000" stroke-width="1.2" />
<line x1="675.3" y1="1201.6" x2="712.1" y2="1201.6" stroke="#000" stroke-width="1.3" />
<path d="M712.1 1201.6 L695.1 1205.0 L695.1 1198.2 Z" fill="#000" stroke="#000" stroke-width="0.5" />
<line x1="809.8" y1="1201.6" x2="772.5" y2="1201.6" stroke="#000" stroke-width="1.3" />
<path d="M772.5 1201.6 L789.5 1198.2 L789.5 1205.0 Z" fill="#000" stroke="#000" stroke-width="0.5" />
<text x="726.3" y="1207.4" font-size="17.18" textLength="30.6" lengthAdjust="spacingAndGlyphs" stroke-width="0.3">5.5'</text>
<line x1="1020.4" y1="1193.5" x2="1058.2" y2="1193.5" stroke="#000" stroke-width="1.3" />
<path d="M1058.2 1193.5 L1041.2 1196.9 L1041.2 1190.1 Z" fill="#000" stroke="#000" stroke-width="0.5" />
<line x1="1155.0" y1="1193.5" x2="1119.6" y2="1193.5" stroke="#000" stroke-width="1.3" />
<path d="M1119.6 1193.5 L1136.6 1190.1 L1136.6 1196.9 Z" fill="#000" stroke="#000" stroke-width="0.5" />
<text x="1069.9" y="1199.3" font-size="17.18" textLength="31.2" lengthAdjust="spacingAndGlyphs" stroke-width="0.3">5.5'</text>
<line x1="676.0" y1="1792.3" x2="711.0" y2="1792.3" stroke="#000" stroke-width="1.3" />
<path d="M711.0 1792.3 L694.0 1795.7 L694.0 1788.9 Z" fill="#000" stroke="#000" stroke-width="0.5" />
<line x1="806.0" y1="1792.3" x2="769.2" y2="1792.3" stroke="#000" stroke-width="1.3" />
<path d="M769.2 1792.3 L786.2 1788.9 L786.2 1795.7 Z" fill="#000" stroke="#000" stroke-width="0.5" />
<text x="724.6" y="1798.0" font-size="17.18" textLength="30.7" lengthAdjust="spacingAndGlyphs" stroke-width="0.3">5.0'</text>
<line x1="1011.5" y1="1750.0" x2="1062.5" y2="1750.0" stroke="#000" stroke-width="1.3" />
<path d="M1062.5 1750.0 L1045.5 1753.4 L1045.5 1746.6 Z" fill="#000" stroke="#000" stroke-width="0.5" />
<line x1="1155.3" y1="1749.6" x2="1119.6" y2="1749.6" stroke="#000" stroke-width="1.3" />
<path d="M1119.6 1749.6 L1136.6 1746.2 L1136.6 1753.0 Z" fill="#000" stroke="#000" stroke-width="0.5" />
<text x="1073.5" y="1755.9" font-size="17.18" textLength="28.0" lengthAdjust="spacingAndGlyphs" stroke-width="0.3">5.0'</text>
<text x="386.0" y="948.7" font-size="16.76" textLength="95.6" lengthAdjust="spacingAndGlyphs" word-spacing="7.5" stroke-width="0.3">20' BUILDING</text>
<text x="384.3" y="968.5" font-size="16.76" textLength="102.5" lengthAdjust="spacingAndGlyphs" word-spacing="7.5" stroke-width="0.3">SETBACK LINE</text>
<path d="M492 963.3 L506 963.3 C515 963.3 520 975 528 994" fill="none" stroke="#000" stroke-width="1.3" />
<path d="M530.3 996.6 L519.6 984.1 L526.7 980.5 Z" fill="#000" stroke="#000" stroke-width="0.5" />
<text x="598.0" y="1074.5" font-size="16.76" textLength="85.2" lengthAdjust="spacingAndGlyphs" word-spacing="7.5" stroke-width="0.3">5' BUILDING</text>
<text x="591.0" y="1094.6" font-size="16.76" textLength="103.3" lengthAdjust="spacingAndGlyphs" word-spacing="7.5" stroke-width="0.3">SETBACK LINE</text>
<path d="M698.8 1090 L719.7 1090 C728 1092 740 1112 764 1144" fill="none" stroke="#000" stroke-width="1.3" />
<path d="M765.3 1145.5 L752.4 1135.2 L758.8 1130.3 Z" fill="#000" stroke="#000" stroke-width="0.5" />
<text x="1133.8" y="1035.3" font-size="16.76" textLength="86.7" lengthAdjust="spacingAndGlyphs" word-spacing="7.5" stroke-width="0.3">5' BUILDING</text>
<text x="1127.7" y="1056.0" font-size="16.76" textLength="103.0" lengthAdjust="spacingAndGlyphs" word-spacing="7.5" stroke-width="0.3">SETBACK LINE</text>
<path d="M1129.8 1029.9 L1111.8 1031.4 C1095 1036 1080 1048 1067 1058.5" fill="none" stroke="#000" stroke-width="1.3" />
<path d="M1066.5 1059.1 L1078.3 1047.5 L1082.3 1054.4 Z" fill="#000" stroke="#000" stroke-width="0.5" />
<text x="381.4" y="1811.8" font-size="16.76" textLength="93.2" lengthAdjust="spacingAndGlyphs" word-spacing="7.5" stroke-width="0.3">10' BUILDING</text>
<text x="375.8" y="1830.9" font-size="16.76" textLength="102.5" lengthAdjust="spacingAndGlyphs" word-spacing="7.5" stroke-width="0.3">SETBACK LINE</text>
<path d="M479.7 1825.5 L490.9 1825.5 C502 1826 512 1840 525 1855" fill="none" stroke="#000" stroke-width="1.3" />
<path d="M526.0 1856.2 L512.3 1847.1 L518.2 1841.7 Z" fill="#000" stroke="#000" stroke-width="0.5" />
<text x="330.3" y="1902.5" font-size="16.76" textLength="160.0" lengthAdjust="spacingAndGlyphs" word-spacing="7.5" stroke-width="0.3">10' ELEC., GAS, TELE.</text>
<text x="338.7" y="1922.1" font-size="16.76" textLength="139.6" lengthAdjust="spacingAndGlyphs" word-spacing="7.5" stroke-width="0.3">&amp; CATV EASEMENT</text>
<path d="M479.7 1913.7 L490.9 1913.7 C505 1912 512 1880 524 1858" fill="none" stroke="#000" stroke-width="1.3" />
<path d="M524.6 1857.6 L520.7 1873.6 L513.6 1869.9 Z" fill="#000" stroke="#000" stroke-width="0.5" />
<path d="M490.9 1913.7 C505 1916 512 1935 523 1953" fill="none" stroke="#000" stroke-width="1.3" />
<path d="M524.6 1954.4 L512.0 1943.7 L518.5 1939.1 Z" fill="#000" stroke="#000" stroke-width="0.5" />
<text x="606.0" y="1830.9" font-size="16.76" textLength="36.5" lengthAdjust="spacingAndGlyphs" stroke-width="0.3">CATV</text>
<text x="588.6" y="1849.2" font-size="16.76" textLength="67.4" lengthAdjust="spacingAndGlyphs" stroke-width="0.3">PEDESTAL</text>
<path d="M658 1843 C672 1843 680 1860 684 1880 C687 1895 690 1905 693 1911" fill="none" stroke="#000" stroke-width="1.3" />
<path d="M694.5 1912.5 L685.9 1898.4 L693.6 1896.0 Z" fill="#000" stroke="#000" stroke-width="0.5" />
<circle cx="695.3" cy="1919.3" r="6.7" fill="none" stroke="#000" stroke-width="1.8"/>
<text x="576.5" y="1878.6" font-size="16.76" textLength="34.6" lengthAdjust="spacingAndGlyphs" stroke-width="0.3">TELE.</text>
<text x="557.7" y="1897.7" font-size="16.76" textLength="69.4" lengthAdjust="spacingAndGlyphs" stroke-width="0.3">PEDESTAL</text>
<path d="M629 1893 C645 1893 655 1900 667 1909" fill="none" stroke="#000" stroke-width="1.3" />
<path d="M667.8 1909.8 L652.3 1904.0 L656.9 1897.4 Z" fill="#000" stroke="#000" stroke-width="0.5" />
<circle cx="672.8" cy="1912.9" r="6.7" fill="none" stroke="#000" stroke-width="1.8"/>
<text x="610.2" y="1928.6" font-size="16.76" textLength="37.9" lengthAdjust="spacingAndGlyphs" stroke-width="0.3">ELEC.</text>
<text x="615.8" y="1946.6" font-size="16.76" textLength="27.3" lengthAdjust="spacingAndGlyphs" stroke-width="0.3">BOX</text>
<path d="M647 1941.5 L686 1937.8" fill="none" stroke="#000" stroke-width="1.3" />
<path d="M686.9 1937.6 L671.4 1943.4 L670.6 1935.4 Z" fill="#000" stroke="#000" stroke-width="0.5" />
<rect x="686.9" y="1932.5" width="15.1" height="10.1" fill="none" stroke="#000" stroke-width="1.8"/>
<text x="1133.2" y="1806.5" font-size="16.76" textLength="50.8" lengthAdjust="spacingAndGlyphs" stroke-width="0.3">606.47</text>
<text x="1136.3" y="1827.7" font-size="16.76" textLength="37.0" lengthAdjust="spacingAndGlyphs" stroke-width="0.3">CATV</text>
<text x="1120.2" y="1846.6" font-size="16.76" textLength="69.8" lengthAdjust="spacingAndGlyphs" stroke-width="0.3">PEDESTAL</text>
<path d="M1132.6 1822.1 L1116 1823 C1105 1830 1098 1850 1090 1868 C1086 1876 1084 1882 1083 1884" fill="none" stroke="#000" stroke-width="1.3" />
<path d="M1082.5 1885.0 L1084.3 1868.6 L1091.8 1871.4 Z" fill="#000" stroke="#000" stroke-width="0.5" />
<circle cx="1080.1" cy="1891.3" r="7.0" fill="none" stroke="#000" stroke-width="1.8"/>
<text x="1159.9" y="1866.2" font-size="16.76" textLength="34.5" lengthAdjust="spacingAndGlyphs" stroke-width="0.3">TELE.</text>
<text x="1162.3" y="1886.3" font-size="16.76" textLength="27.7" lengthAdjust="spacingAndGlyphs" stroke-width="0.3">BOX</text>
<path d="M1154.3 1861.2 C1135 1862 1122 1875 1110 1889 C1100 1899 1092 1906 1086 1910" fill="none" stroke="#000" stroke-width="1.3" />
<path d="M1085.0 1911.0 L1095.6 1898.4 L1100.3 1904.8 Z" fill="#000" stroke="#000" stroke-width="0.5" />
<rect x="1077.7" y="1908.3" width="10.4" height="10.1" fill="none" stroke="#000" stroke-width="1.8"/>
<text x="1179.4" y="1911.3" font-size="16.76" textLength="49.1" lengthAdjust="spacingAndGlyphs" stroke-width="0.3">A.T.&amp;T.</text>
<text x="1190.4" y="1928.0" font-size="16.76" textLength="27.1" lengthAdjust="spacingAndGlyphs" stroke-width="0.3">BOX</text>
<path d="M1177 1905.5 C1160 1906 1145 1910 1133 1914.5" fill="none" stroke="#000" stroke-width="1.3" />
<path d="M1132.5 1914.8 L1146.9 1906.7 L1149.0 1914.4 Z" fill="#000" stroke="#000" stroke-width="0.5" />
<rect x="1121.8" y="1911.3" width="10.4" height="9.1" fill="none" stroke="#000" stroke-width="1.8"/>
<text x="1164.3" y="1945.4" font-size="16.76" textLength="101.9" lengthAdjust="spacingAndGlyphs" stroke-width="0.3">TRANSFORMER</text>
<text x="1179.4" y="1964.1" font-size="16.76" textLength="70.7" lengthAdjust="spacingAndGlyphs" word-spacing="7.5" stroke-width="0.3">ON CONC.</text>
<path d="M1161.3 1940.8 C1145 1941 1135 1950 1123 1958" fill="none" stroke="#000" stroke-width="1.3" />
<path d="M1122.2 1959.5 L1133.3 1947.3 L1137.7 1954.0 Z" fill="#000" stroke="#000" stroke-width="0.5" />
<line x1="1122.2" y1="1959.5" x2="1108.0" y2="1967.0" stroke="#000" stroke-width="1.3" />
<rect x="1087.7" y="1946.4" width="40.5" height="42.6" fill="none" stroke="#000" stroke-width="1.6"/>
<line x1="790.7" y1="1809.0" x2="790.7" y2="1971.6" stroke="#000" stroke-width="1.6" />
<line x1="953.7" y1="1809.0" x2="953.7" y2="1981.0" stroke="#000" stroke-width="1.6" />
<circle cx="790.7" cy="1971.6" r="5.5" fill="#000"/>
<circle cx="953.7" cy="1980.8" r="5.5" fill="#000"/>
<line x1="953.7" y1="1849.2" x2="1055.2" y2="1849.2" stroke="#000" stroke-width="2" />
<line x1="1055.2" y1="1790.0" x2="1055.2" y2="1849.2" stroke="#000" stroke-width="2" />
<line x1="766.0" y1="1809.0" x2="766.0" y2="1869.5" stroke="#000" stroke-width="1.6" />
<path d="M998.3 1901.5 C984 1900 975 1890 975 1870 L975.2 1842" fill="none" stroke="#000" stroke-width="1.3" />
<path d="M975.2 1838.4 L979.2 1854.4 L971.2 1854.4 Z" fill="#000" stroke="#000" stroke-width="0.5" />
<text x="1002.9" y="1906.0" font-size="16.76" textLength="63.0" lengthAdjust="spacingAndGlyphs" word-spacing="7.5" stroke-width="0.3">4' CONC.</text>
<text x="1016.7" y="1923.0" font-size="16.76" textLength="36.9" lengthAdjust="spacingAndGlyphs" stroke-width="0.3">WALK</text>
<text x="855.3" y="1900.0" font-size="16.76" textLength="36.9" lengthAdjust="spacingAndGlyphs" stroke-width="0.3">16.3'</text>
<text x="851.6" y="1916.8" font-size="16.76" textLength="42.1" lengthAdjust="spacingAndGlyphs" stroke-width="0.3">CONC.</text>
<text x="852.8" y="1933.8" font-size="16.76" textLength="39.4" lengthAdjust="spacingAndGlyphs" stroke-width="0.3">DRIVE</text>
<text x="815.0" y="1929.1" font-size="17.46" textLength="43.0" lengthAdjust="spacingAndGlyphs" transform="rotate(-90.00 815.0 1929.1)" stroke-width="0.3">SLOPE</text>
<text x="836.5" y="1926.0" font-size="17.46" textLength="36.8" lengthAdjust="spacingAndGlyphs" transform="rotate(-90.00 836.5 1926.0)" stroke-width="0.3">11.2%</text>
<text x="921.0" y="1927.6" font-size="17.46" textLength="40.0" lengthAdjust="spacingAndGlyphs" transform="rotate(-90.00 921.0 1927.6)" stroke-width="0.3">11.0%</text>
<text x="943.0" y="1929.1" font-size="17.46" textLength="43.0" lengthAdjust="spacingAndGlyphs" transform="rotate(-90.00 943.0 1929.1)" stroke-width="0.3">SLOPE</text>
<line x1="818.4" y1="1886.5" x2="818.4" y2="1954.3" stroke="#000" stroke-width="1.5" />
<path d="M818.4 1934.2 L828.9 1934.2 L818.4 1954.3 Z" fill="none" stroke="#000" stroke-width="1.5" />
<line x1="926.0" y1="1885.5" x2="926.0" y2="1954.3" stroke="#000" stroke-width="1.5" />
<path d="M926.0 1934.2 L915.8 1934.2 L926.0 1954.3 Z" fill="none" stroke="#000" stroke-width="1.5" />
<line x1="775.3" y1="1812.0" x2="775.3" y2="1887.0" stroke="#000" stroke-width="1.3" />
<line x1="775.3" y1="1930.0" x2="775.3" y2="2030.0" stroke="#000" stroke-width="1.3" />
<path d="M775.3 1810.5 L778.7 1828.5 L771.9 1828.5 Z" fill="#000" stroke="#000" stroke-width="0.5" />
<path d="M775.3 2030.4 L771.9 2012.4 L778.7 2012.4 Z" fill="#000" stroke="#000" stroke-width="0.5" />
<text x="781.5" y="1929.1" font-size="17.46" textLength="41.5" lengthAdjust="spacingAndGlyphs" transform="rotate(-90.00 781.5 1929.1)" stroke-width="0.3">22.1'</text>
<rect x="720.0" y="1974.3" width="32.3" height="22.5" fill="none" stroke="#000" stroke-width="1.8"/>
<line x1="720.0" y1="1974.3" x2="752.3" y2="1996.8" stroke="#000" stroke-width="1.8" />
<line x1="720.0" y1="1996.8" x2="752.3" y2="1974.3" stroke="#000" stroke-width="1.8" />
<text x="721.5" y="2012.2" font-size="16.06" font-weight="bold" textLength="27.7" lengthAdjust="spacingAndGlyphs" stroke-width="0">WM.</text>
<line x1="790.6" y1="1971.6" x2="771.5" y2="2077.3" stroke="#000" stroke-width="1.6" />
<line x1="954.5" y1="1981.0" x2="972.6" y2="2088.2" stroke="#000" stroke-width="1.6" />
<line x1="711.9" y1="2026.8" x2="778.7" y2="2030.4" stroke="#000" stroke-width="1.8" />
<line x1="966.4" y1="2041.2" x2="1117.2" y2="2049.7" stroke="#000" stroke-width="1.8" />
<line x1="710.1" y1="2066.5" x2="1117.2" y2="2089.8" stroke="#000" stroke-width="1.8" />
<line x1="710.1" y1="2074.8" x2="1117.2" y2="2097.8" stroke="#000" stroke-width="1.8" />
<rect x="628.2" y="2022.5" width="61.3" height="24.9" fill="none" stroke="#000" stroke-width="1.4"/>
<text x="658.9" y="2041.9" font-size="16.76" text-anchor="middle" textLength="37.7" lengthAdjust="spacingAndGlyphs" stroke-width="0.3">606.4</text>
<path d="M689.5 2035 C700 2035 705 2030 707 2015 C709 2000 710 1985 714 1975" fill="none" stroke="#000" stroke-width="1.3" />
<rect x="809.4" y="2013.4" width="60.6" height="23.5" fill="none" stroke="#000" stroke-width="1.4"/>
<text x="839.7" y="2031.4" font-size="16.76" text-anchor="middle" textLength="46.0" lengthAdjust="spacingAndGlyphs" stroke-width="0.3">606.34</text>
<path d="M809.4 2025 C795 2025 792 2018 791 2005 L790.6 1975" fill="none" stroke="#000" stroke-width="1.3" />
<rect x="880.9" y="2013.4" width="60.3" height="23.5" fill="none" stroke="#000" stroke-width="1.4"/>
<text x="911.0" y="2031.4" font-size="16.76" text-anchor="middle" textLength="46.0" lengthAdjust="spacingAndGlyphs" stroke-width="0.3">606.27</text>
<path d="M941.2 2025 C952 2025 955 2018 955 2005 L954.5 1985" fill="none" stroke="#000" stroke-width="1.3" />
<text x="982.7" y="2071.5" font-size="16.06" textLength="110.3" lengthAdjust="spacingAndGlyphs" transform="rotate(3.12 982.7 2071.5)" word-spacing="7.2" stroke-width="0.3">4' CONC. WALK</text>
<text x="1020.6" y="2110.0" font-size="16.06" textLength="38.0" lengthAdjust="spacingAndGlyphs" transform="rotate(3.32 1020.6 2110.0)" stroke-width="0.3">CURB</text>
<text x="677.0" y="2121.0" font-size="13.97" textLength="52.6" lengthAdjust="spacingAndGlyphs" transform="rotate(-53.89 677.0 2121.0)" stroke-width="0.3">T.O.C.=</text>
<text x="697.0" y="2122.0" font-size="13.97" textLength="49.7" lengthAdjust="spacingAndGlyphs" transform="rotate(-53.59 697.0 2122.0)" stroke-width="0.3">606.16</text>
<text x="711.0" y="2122.0" font-size="13.97" textLength="45.8" lengthAdjust="spacingAndGlyphs" transform="rotate(-53.88 711.0 2122.0)" stroke-width="0.3">GUT.=</text>
<text x="729.0" y="2123.0" font-size="13.97" textLength="52.3" lengthAdjust="spacingAndGlyphs" transform="rotate(-54.33 729.0 2123.0)" stroke-width="0.3">605.61</text>
<text x="859.5" y="2133.0" font-size="13.97" textLength="50.9" lengthAdjust="spacingAndGlyphs" transform="rotate(-54.59 859.5 2133.0)" stroke-width="0.3">T.O.C.=</text>
<text x="879.5" y="2135.0" font-size="13.97" textLength="54.1" lengthAdjust="spacingAndGlyphs" transform="rotate(-56.31 879.5 2135.0)" stroke-width="0.3">606.06</text>
<text x="893.5" y="2135.0" font-size="13.97" textLength="45.6" lengthAdjust="spacingAndGlyphs" transform="rotate(-55.27 893.5 2135.0)" stroke-width="0.3">GUT.=</text>
<text x="911.5" y="2136.0" font-size="13.97" textLength="54.2" lengthAdjust="spacingAndGlyphs" transform="rotate(-55.14 911.5 2136.0)" stroke-width="0.3">605.55</text>
<text x="1071.5" y="2146.5" font-size="13.97" textLength="52.8" lengthAdjust="spacingAndGlyphs" transform="rotate(-52.70 1071.5 2146.5)" stroke-width="0.3">T.O.C.=</text>
<text x="1092.5" y="2148.5" font-size="13.97" textLength="51.2" lengthAdjust="spacingAndGlyphs" transform="rotate(-56.15 1092.5 2148.5)" stroke-width="0.3">605.94</text>
<text x="1107.0" y="2148.0" font-size="13.97" textLength="43.5" lengthAdjust="spacingAndGlyphs" transform="rotate(-55.76 1107.0 2148.0)" stroke-width="0.3">GUT.=</text>
<text x="1126.5" y="2152.5" font-size="13.97" textLength="53.0" lengthAdjust="spacingAndGlyphs" transform="rotate(-56.16 1126.5 2152.5)" stroke-width="0.3">605.40</text>
<line x1="715.2" y1="2064.5" x2="725.2" y2="2067.5" stroke="#000" stroke-width="1.2" />
<line x1="718.7" y1="2071.0" x2="721.7" y2="2061.0" stroke="#000" stroke-width="1.2" />
<line x1="893.6" y1="2076.6" x2="903.6" y2="2079.6" stroke="#000" stroke-width="1.2" />
<line x1="897.1" y1="2083.1" x2="900.1" y2="2073.1" stroke="#000" stroke-width="1.2" />
<line x1="1102.5" y1="2092.6" x2="1112.5" y2="2095.6" stroke="#000" stroke-width="1.2" />
<line x1="1106.0" y1="2099.1" x2="1109.0" y2="2089.1" stroke="#000" stroke-width="1.2" />
<text x="598.4" y="1782.0" font-size="35.61" textLength="583.0" lengthAdjust="spacingAndGlyphs" transform="rotate(-90.00 598.4 1782.0)" word-spacing="16.0" stroke-width="0.6">N 90°00’00” E 116.96’ (F &amp; P)</text>
<text x="1239.0" y="1759.8" font-size="37.01" textLength="578.4" lengthAdjust="spacingAndGlyphs" transform="rotate(-90.00 1239.0 1759.8)" word-spacing="16.7" stroke-width="0.6">S 90°00’00” W 119.18’ (F &amp; P)</text>
<text x="634.0" y="2172.1" font-size="35.34" textLength="538.0" lengthAdjust="spacingAndGlyphs" transform="rotate(3.12 634.0 2172.1)" word-spacing="15.9" stroke-width="0.6">N 3°10’47” E 40.06’ (F &amp; P)</text>
<text x="740.0" y="2236.2" font-size="32.82" textLength="352.8" lengthAdjust="spacingAndGlyphs" word-spacing="14.8" stroke-width="0.6">CHAVANEAUX LNDG</text>
<line x1="714.8" y1="2247.7" x2="878.0" y2="2247.7" stroke="#000" stroke-width="2" />
<line x1="902.5" y1="2247.7" x2="928.5" y2="2247.7" stroke="#000" stroke-width="2" />
<line x1="952.0" y1="2247.7" x2="1116.2" y2="2247.7" stroke="#000" stroke-width="2" />
<text x="842.6" y="2279.5" font-size="25.14" textLength="146.6" lengthAdjust="spacingAndGlyphs" word-spacing="11.3" stroke-width="0.15">(50' R.O.W.)</text>
<text x="868.2" y="1260.3" font-size="37.71" font-weight="bold" textLength="108.3" lengthAdjust="spacingAndGlyphs" word-spacing="17.0" stroke-width="0">LOT 2</text>
<text x="846.5" y="1288.2" font-size="25.50" font-family='"Liberation Serif", serif' font-style="italic" font-weight="bold" textLength="164.7" lengthAdjust="spacingAndGlyphs" stroke-width="0">CC‒2511‒CL</text>
<text x="811.2" y="1321.5" font-size="23.46" textLength="235.8" lengthAdjust="spacingAndGlyphs" word-spacing="10.6" stroke-width="0.15">DRAINAGE TYPE 'B'</text>
<rect x="848.5" y="1329.7" width="161.2" height="33.8" fill="none" stroke="#000" stroke-width="3.6"/>
<text x="858.8" y="1354.7" font-size="24.72" font-weight="bold" textLength="137.7" lengthAdjust="spacingAndGlyphs" stroke-width="0" style="stroke:#000;stroke-width:0.9px">F.F.=608.90</text>
<text x="203.2" y="1281.6" font-size="33.52" fill="#444" textLength="98.9" lengthAdjust="spacingAndGlyphs" word-spacing="15.1" stroke-width="0.6">LOT 1</text>
<text x="176.8" y="1341.0" font-size="43.36" font-family='"Liberation Serif", serif' font-style="italic" textLength="149.3" lengthAdjust="spacingAndGlyphs" stroke-width="0">BLOCK</text>
<text x="185.8" y="1393.3" font-size="43.36" font-family='"Liberation Serif", serif' font-style="italic" textLength="132.6" lengthAdjust="spacingAndGlyphs" stroke-width="0">N.C.B.</text>
<text x="1416.1" y="1281.3" font-size="33.52" fill="#444" textLength="105.2" lengthAdjust="spacingAndGlyphs" word-spacing="15.1" stroke-width="0.6">LOT 3</text>
<text x="1456.7" y="1341.3" font-size="39.53" font-style="italic" textLength="23.1" lengthAdjust="spacingAndGlyphs" stroke-width="0.6">8</text>
<text x="1401.3" y="1393.0" font-size="39.11" font-style="italic" textLength="132.9" lengthAdjust="spacingAndGlyphs" stroke-width="0.6">14850</text>
<path d="M351.3 1066.8 L393.0 1066.8 L412.0 1101.6 L393.0 1135.7 L351.3 1135.7 L332.8 1101.6 Z" fill="none" stroke="#000" stroke-width="2" />
<line x1="332.8" y1="1101.6" x2="412.0" y2="1101.6" stroke="#000" stroke-width="2" />
<text x="372.4" y="1094.6" font-size="24.44" text-anchor="middle" textLength="28.0" lengthAdjust="spacingAndGlyphs" stroke-width="0">17</text>
<text x="372.4" y="1127.7" font-size="24.44" text-anchor="middle" textLength="28.0" lengthAdjust="spacingAndGlyphs" stroke-width="0">10</text>
<text x="307.0" y="1160.7" font-size="23.04" textLength="101.6" lengthAdjust="spacingAndGlyphs" stroke-width="0">E=607.5</text>
<text x="307.0" y="1185.0" font-size="23.04" textLength="96.4" lengthAdjust="spacingAndGlyphs" stroke-width="0">F=608.1</text>
<path d="M1442.9 1067.0 L1483.8 1067.0 L1503.4 1101.5 L1483.8 1135.9 L1442.9 1135.9 L1423.5 1101.5 Z" fill="none" stroke="#000" stroke-width="2" />
<line x1="1423.5" y1="1101.5" x2="1503.4" y2="1101.5" stroke="#000" stroke-width="2" />
<text x="1463.5" y="1094.4" font-size="24.44" text-anchor="middle" textLength="28.0" lengthAdjust="spacingAndGlyphs" stroke-width="0">23</text>
<text x="1463.5" y="1127.0" font-size="24.44" text-anchor="middle" textLength="28.0" lengthAdjust="spacingAndGlyphs" stroke-width="0">16</text>
<text x="1398.3" y="1161.4" font-size="23.04" textLength="100.8" lengthAdjust="spacingAndGlyphs" stroke-width="0">E=607.0</text>
<text x="1398.9" y="1184.5" font-size="23.04" textLength="99.6" lengthAdjust="spacingAndGlyphs" stroke-width="0">F=607.6</text>
<path d="M373.6 1647.9 L413.7 1647.9 L432.8 1682.1 L413.7 1716.4 L373.6 1716.4 L353.9 1682.1 Z" fill="none" stroke="#000" stroke-width="2" />
<line x1="353.9" y1="1682.1" x2="432.8" y2="1682.1" stroke="#000" stroke-width="2" />
<text x="393.4" y="1675.1" font-size="24.44" text-anchor="middle" textLength="28.0" lengthAdjust="spacingAndGlyphs" stroke-width="0">23</text>
<text x="393.4" y="1708.2" font-size="24.44" text-anchor="middle" textLength="28.0" lengthAdjust="spacingAndGlyphs" stroke-width="0">12</text>
<text x="328.0" y="1741.6" font-size="23.04" textLength="101.1" lengthAdjust="spacingAndGlyphs" stroke-width="0">E=607.0</text>
<text x="328.0" y="1765.8" font-size="23.04" textLength="99.7" lengthAdjust="spacingAndGlyphs" stroke-width="0">F=607.9</text>
<path d="M1435.8 1691.5 L1476.7 1691.5 L1496.7 1726.9 L1476.7 1760.4 L1435.8 1760.4 L1416.7 1726.9 Z" fill="none" stroke="#000" stroke-width="2" />
<line x1="1416.7" y1="1726.9" x2="1496.7" y2="1726.9" stroke="#000" stroke-width="2" />
<text x="1456.7" y="1718.3" font-size="24.44" text-anchor="middle" textLength="28.0" lengthAdjust="spacingAndGlyphs" stroke-width="0">28</text>
<text x="1456.7" y="1752.1" font-size="24.44" text-anchor="middle" textLength="28.0" lengthAdjust="spacingAndGlyphs" stroke-width="0">19</text>
<text x="1391.5" y="1785.9" font-size="23.04" textLength="100.5" lengthAdjust="spacingAndGlyphs" stroke-width="0">E=606.6</text>
<text x="1391.5" y="1810.5" font-size="23.04" textLength="100.5" lengthAdjust="spacingAndGlyphs" stroke-width="0">F=607.3</text>
<rect x="65.6" y="2143.4" width="360.9" height="590.5999999999999" fill="none" stroke="#000" stroke-width="1.6"/>
<line x1="65.6" y1="2175.1" x2="426.5" y2="2175.1" stroke="#000" stroke-width="1.6" />
<line x1="296.2" y1="2175.1" x2="296.2" y2="2734.0" stroke="#808080" stroke-width="2" />
<text x="74.7" y="2199.9" font-size="24.86" textLength="95.8" lengthAdjust="spacingAndGlyphs" stroke-width="0.15">DRIVEWAY</text>
<text x="316.0" y="2199.9" font-size="24.86" textLength="106.0" lengthAdjust="spacingAndGlyphs" stroke-width="0.15">270 SQ. FT.</text>
<line x1="66.4" y1="2206.4" x2="425.7" y2="2206.4" stroke="#808080" stroke-width="2" />
<text x="74.7" y="2231.2" font-size="24.86" textLength="102.1" lengthAdjust="spacingAndGlyphs" stroke-width="0.15">APPROACH</text>
<text x="317.0" y="2231.2" font-size="24.86" textLength="105.0" lengthAdjust="spacingAndGlyphs" stroke-width="0.15">198 SQ. FT.</text>
<line x1="66.4" y1="2237.7" x2="425.7" y2="2237.7" stroke="#808080" stroke-width="2" />
<text x="74.7" y="2262.5" font-size="24.86" textLength="108.5" lengthAdjust="spacingAndGlyphs" stroke-width="0.15">LEAD WALK</text>
<text x="328.7" y="2262.5" font-size="24.86" textLength="93.3" lengthAdjust="spacingAndGlyphs" stroke-width="0.15">49 SQ. FT.</text>
<line x1="66.4" y1="2269.0" x2="425.7" y2="2269.0" stroke="#808080" stroke-width="2" />
<text x="74.7" y="2293.8" font-size="24.86" textLength="128.8" lengthAdjust="spacingAndGlyphs" stroke-width="0.15">PUBLIC WALK</text>
<text x="328.7" y="2293.8" font-size="24.86" textLength="93.3" lengthAdjust="spacingAndGlyphs" stroke-width="0.15">83 SQ. FT.</text>
<line x1="66.4" y1="2300.3" x2="425.7" y2="2300.3" stroke="#808080" stroke-width="2" />
<text x="74.7" y="2325.1" font-size="24.86" textLength="52.6" lengthAdjust="spacingAndGlyphs" stroke-width="0.15">PATIO</text>
<text x="390.2" y="2325.1" font-size="24.86" textLength="31.8" lengthAdjust="spacingAndGlyphs" stroke-width="0.15">N/A</text>
<line x1="66.4" y1="2331.5" x2="425.7" y2="2331.5" stroke="#808080" stroke-width="2" />
<text x="74.7" y="2356.3" font-size="24.86" textLength="107.7" lengthAdjust="spacingAndGlyphs" stroke-width="0.15">HVAC PADS</text>
<text x="329.2" y="2356.3" font-size="24.86" textLength="92.8" lengthAdjust="spacingAndGlyphs" stroke-width="0.15">16 SQ. FT.</text>
<line x1="66.4" y1="2362.8" x2="425.7" y2="2362.8" stroke="#808080" stroke-width="2" />
<text x="74.7" y="2387.6" font-size="24.86" textLength="56.9" lengthAdjust="spacingAndGlyphs" stroke-width="0.15">TOTAL</text>
<text x="316.0" y="2387.6" font-size="24.86" textLength="106.0" lengthAdjust="spacingAndGlyphs" stroke-width="0.15">616 SQ. FT.</text>
<line x1="66.4" y1="2394.1" x2="425.7" y2="2394.1" stroke="#808080" stroke-width="2" />
<line x1="66.4" y1="2425.4" x2="425.7" y2="2425.4" stroke="#808080" stroke-width="2" />
<text x="74.7" y="2450.2" font-size="24.86" textLength="107.2" lengthAdjust="spacingAndGlyphs" stroke-width="0.15">FRONT SOD</text>
<text x="317.0" y="2450.2" font-size="24.86" textLength="105.0" lengthAdjust="spacingAndGlyphs" stroke-width="0.15">133SQ. YD.</text>
<line x1="66.4" y1="2456.7" x2="425.7" y2="2456.7" stroke="#808080" stroke-width="2" />
<text x="74.7" y="2481.5" font-size="24.86" textLength="94.5" lengthAdjust="spacingAndGlyphs" stroke-width="0.15">REAR SOD</text>
<text x="317.0" y="2481.5" font-size="24.86" textLength="105.0" lengthAdjust="spacingAndGlyphs" stroke-width="0.15">152SQ. YD.</text>
<line x1="66.4" y1="2488.0" x2="425.7" y2="2488.0" stroke="#808080" stroke-width="2" />
<line x1="66.4" y1="2519.3" x2="425.7" y2="2519.3" stroke="#808080" stroke-width="2" />
<text x="74.7" y="2544.1" font-size="24.86" textLength="125.5" lengthAdjust="spacingAndGlyphs" stroke-width="0.15">TOTAL FENCE</text>
<text x="317.0" y="2544.1" font-size="24.86" textLength="105.0" lengthAdjust="spacingAndGlyphs" stroke-width="0.15">125 LN. FT.</text>
<line x1="66.4" y1="2550.6" x2="425.7" y2="2550.6" stroke="#808080" stroke-width="2" />
<line x1="66.4" y1="2581.8" x2="425.7" y2="2581.8" stroke="#808080" stroke-width="2" />
<text x="74.7" y="2606.6" font-size="24.86" textLength="191.0" lengthAdjust="spacingAndGlyphs" stroke-width="0.15">AVERAGE EXPOSURE</text>
<text x="393.2" y="2606.6" font-size="24.86" textLength="28.8" lengthAdjust="spacingAndGlyphs" stroke-width="0.15">23"</text>
<line x1="66.4" y1="2613.1" x2="425.7" y2="2613.1" stroke="#808080" stroke-width="2" />
<text x="74.7" y="2637.9" font-size="24.86" textLength="121.2" lengthAdjust="spacingAndGlyphs" stroke-width="0.15">DRIVE SLOPE</text>
<text x="366.0" y="2637.9" font-size="24.86" textLength="56.0" lengthAdjust="spacingAndGlyphs" stroke-width="0.15">11.2%</text>
<line x1="66.4" y1="2644.4" x2="425.7" y2="2644.4" stroke="#808080" stroke-width="2" />
<text x="74.7" y="2669.2" font-size="24.86" textLength="102.6" lengthAdjust="spacingAndGlyphs" stroke-width="0.15">SLAB AREA</text>
<text x="298.8" y="2669.2" font-size="24.86" textLength="123.2" lengthAdjust="spacingAndGlyphs" stroke-width="0.15">1,958 SQ. FT.</text>
<line x1="66.4" y1="2675.7" x2="425.7" y2="2675.7" stroke="#808080" stroke-width="2" />
<text x="74.7" y="2700.5" font-size="24.86" textLength="88.9" lengthAdjust="spacingAndGlyphs" stroke-width="0.15">LOT AREA</text>
<text x="298.8" y="2700.5" font-size="24.86" textLength="123.2" lengthAdjust="spacingAndGlyphs" stroke-width="0.15">4,723 SQ. FT.</text>
<line x1="66.4" y1="2707.0" x2="425.7" y2="2707.0" stroke="#808080" stroke-width="2" />
<text x="199.5" y="2167.0" font-size="28.40" font-family='"Liberation Serif", serif' fill="#fff" text-anchor="middle" stroke-width="0" style="stroke:#000;stroke-width:1.0px">A</text>
<text x="223.3" y="2167.0" font-size="28.40" font-family='"Liberation Serif", serif' fill="#fff" text-anchor="middle" stroke-width="0" style="stroke:#000;stroke-width:1.0px">R</text>
<text x="245.0" y="2167.0" font-size="28.40" font-family='"Liberation Serif", serif' fill="#fff" text-anchor="middle" stroke-width="0" style="stroke:#000;stroke-width:1.0px">E</text>
<text x="266.5" y="2167.0" font-size="28.40" font-family='"Liberation Serif", serif' fill="#fff" text-anchor="middle" stroke-width="0" style="stroke:#000;stroke-width:1.0px">A</text>
<text x="289.0" y="2167.0" font-size="28.40" font-family='"Liberation Serif", serif' fill="#fff" text-anchor="middle" stroke-width="0" style="stroke:#000;stroke-width:1.0px">S</text>
<text x="655.1" y="2392.6" font-size="25.34" font-family='"Liberation Serif", serif' font-style="italic" font-weight="bold" textLength="191.3" lengthAdjust="spacingAndGlyphs" word-spacing="5.1" letter-spacing="1.0" stroke-width="0">SITE PLAN OF</text>
<text x="585.4" y="2418.6" font-size="25.34" font-family='"Liberation Serif", serif' font-style="italic" font-weight="bold" textLength="332.1" lengthAdjust="spacingAndGlyphs" word-spacing="5.1" letter-spacing="1.0" stroke-width="0">9906 CHAVANEAUX LNDG</text>
<text x="642.5" y="2445.7" font-size="25.34" font-family='"Liberation Serif", serif' font-style="italic" font-weight="bold" textLength="218.4" lengthAdjust="spacingAndGlyphs" word-spacing="5.1" letter-spacing="1.0" stroke-width="0">LOT 2, BLOCK 8</text>
<text x="590.1" y="2472.0" font-size="25.34" font-family='"Liberation Serif", serif' font-style="italic" font-weight="bold" textLength="324.9" lengthAdjust="spacingAndGlyphs" word-spacing="5.1" letter-spacing="1.0" stroke-width="0">NEW CITY BLOCK 14850</text>
<text x="502.4" y="2504.5" font-size="32.98" font-family='"Liberation Serif", serif' font-style="italic" font-weight="normal" textLength="495.6" lengthAdjust="spacingAndGlyphs" word-spacing="6.6" letter-spacing="1.3" stroke-width="0">CHAVANEAUX SUBDIVISION</text>
<text x="685.8" y="2540.6" font-size="32.06" font-family='"Liberation Serif", serif' font-style="italic" font-weight="normal" textLength="131.7" lengthAdjust="spacingAndGlyphs" word-spacing="6.4" letter-spacing="1.3" stroke-width="0">UNIT 3</text>
<text x="600.9" y="2569.5" font-size="25.34" font-family='"Liberation Serif", serif' font-style="italic" font-weight="bold" textLength="300.8" lengthAdjust="spacingAndGlyphs" word-spacing="5.1" letter-spacing="1.0" stroke-width="0">CITY OF SAN ANTONIO</text>
<text x="596.2" y="2597.3" font-size="25.34" font-family='"Liberation Serif", serif' font-style="italic" font-weight="bold" textLength="311.6" lengthAdjust="spacingAndGlyphs" word-spacing="5.1" letter-spacing="1.0" stroke-width="0">BEXAR COUNTY, TEXAS</text>
<text x="664.8" y="2635.2" font-size="21.23" textLength="109.4" lengthAdjust="spacingAndGlyphs" word-spacing="9.6" stroke-width="0.15">DRAWN BY:</text>
<text x="803.1" y="2632.5" font-size="19.55" textLength="37.9" lengthAdjust="spacingAndGlyphs" stroke-width="0.15">A.R.</text>
<line x1="786.1" y1="2637.0" x2="852.6" y2="2637.0" stroke="#000" stroke-width="1.6" />
<text x="664.8" y="2663.4" font-size="21.23" textLength="132.9" lengthAdjust="spacingAndGlyphs" word-spacing="9.6" stroke-width="0.15">CHECKED BY:</text>
<text x="824.8" y="2660.5" font-size="19.55" textLength="36.1" lengthAdjust="spacingAndGlyphs" stroke-width="0.15">W.J.</text>
<line x1="810.3" y1="2665.2" x2="877.1" y2="2665.2" stroke="#000" stroke-width="1.6" />
<text x="664.8" y="2691.2" font-size="21.23" textLength="49.9" lengthAdjust="spacingAndGlyphs" stroke-width="0.15">DATE:</text>
<text x="743.5" y="2689.0" font-size="20.95" textLength="126.4" lengthAdjust="spacingAndGlyphs" stroke-width="0.15">10/27/2025</text>
<line x1="728.4" y1="2693.0" x2="888.0" y2="2693.0" stroke="#000" stroke-width="1.6" />
<text x="1352.3" y="2565.5" font-size="27.09" textLength="223.8" lengthAdjust="spacingAndGlyphs" word-spacing="12.2" stroke-width="0.15">SINCLAIR LAND</text>
<text x="1348.2" y="2594.5" font-size="27.93" textLength="243.8" lengthAdjust="spacingAndGlyphs" word-spacing="12.6" stroke-width="0.15">SURVEYING, INC.</text>
<text x="1370.9" y="2629.5" font-size="19.55" textLength="184.1" lengthAdjust="spacingAndGlyphs" word-spacing="8.8" stroke-width="0">3411 MAGIC DRIVE</text>
<text x="1316.4" y="2651.8" font-size="19.55" textLength="291.6" lengthAdjust="spacingAndGlyphs" word-spacing="8.8" stroke-width="0">SAN ANTONIO, TEXAS 78229</text>
<text x="1387.5" y="2673.4" font-size="19.55" textLength="150.7" lengthAdjust="spacingAndGlyphs" stroke-width="0">210–341–4518</text>
<text x="1329.1" y="2692.7" font-size="19.55" textLength="270.9" lengthAdjust="spacingAndGlyphs" word-spacing="8.8" stroke-width="0">TBPELS FIRM NO.10089000</text>
<text x="1318.6" y="2716.6" font-size="20.95" textLength="287.1" lengthAdjust="spacingAndGlyphs" word-spacing="9.4" stroke-width="0">JOB NUMBER: S–202583927</text>
<line x1="1054.0" y1="2606.0" x2="1633.0" y2="2606.0" stroke="#000" stroke-width="4.5" />
<path d="M1126.4 2672.9 A100 100 0 1 1 1266.4 2672.9" fill="none" stroke="#000" stroke-width="25"/>
<path d="M1126.2 2672.7 A100 100 0 1 1 1266.6 2672.7" fill="none" stroke="#e2592a" stroke-width="22"/>
<path d="M1257.7 2679.9 A99.5 99.5 0 0 1 1135.1 2679.9" fill="none" stroke="#231f20" stroke-width="23.5"/>
<circle cx="1196.4" cy="2601.5" r="63.5" fill="none" stroke="#231f20" stroke-width="17.5"/>
<line x1="1196.4" y1="2466" x2="1196.4" y2="2734" stroke="#fff" stroke-width="12.5"/>
<line x1="1196.4" y1="2465" x2="1196.4" y2="2734" stroke="#231f20" stroke-width="10" stroke-linecap="round"/>
<path d="M1182.5 2555.3 L1210.5 2555.3 L1225.2 2569.5 L1225.2 2582.4 L1209.3 2582.4 L1209.3 2577.3 L1204.5 2572.8 L1184.6 2572.8 L1184.6 2586.9 L1189.1 2591.4 L1215.6 2591.4 L1225.2 2601.4 L1225.2 2630.3 L1210.5 2645.6 L1182.8 2645.6 L1167.4 2630.3 L1167.4 2619.1 L1184.6 2619.1 L1184.6 2624.8 L1189.1 2629.7 L1203.5 2629.7 L1208.4 2624.8 L1208.4 2608.0 L1182.8 2607.5 L1167.4 2592.9 L1167.4 2569.5 Z" fill="#e2592a" stroke="#000" stroke-width="1.3" stroke-linejoin="miter"/>
<line x1="1196.4" y1="2555.8" x2="1196.4" y2="2572.5" stroke="#231f20" stroke-width="3" />
<line x1="1208.7" y1="2607.6" x2="1225.2" y2="2607.6" stroke="#000" stroke-width="2.4" />
</svg>
</body></html>
